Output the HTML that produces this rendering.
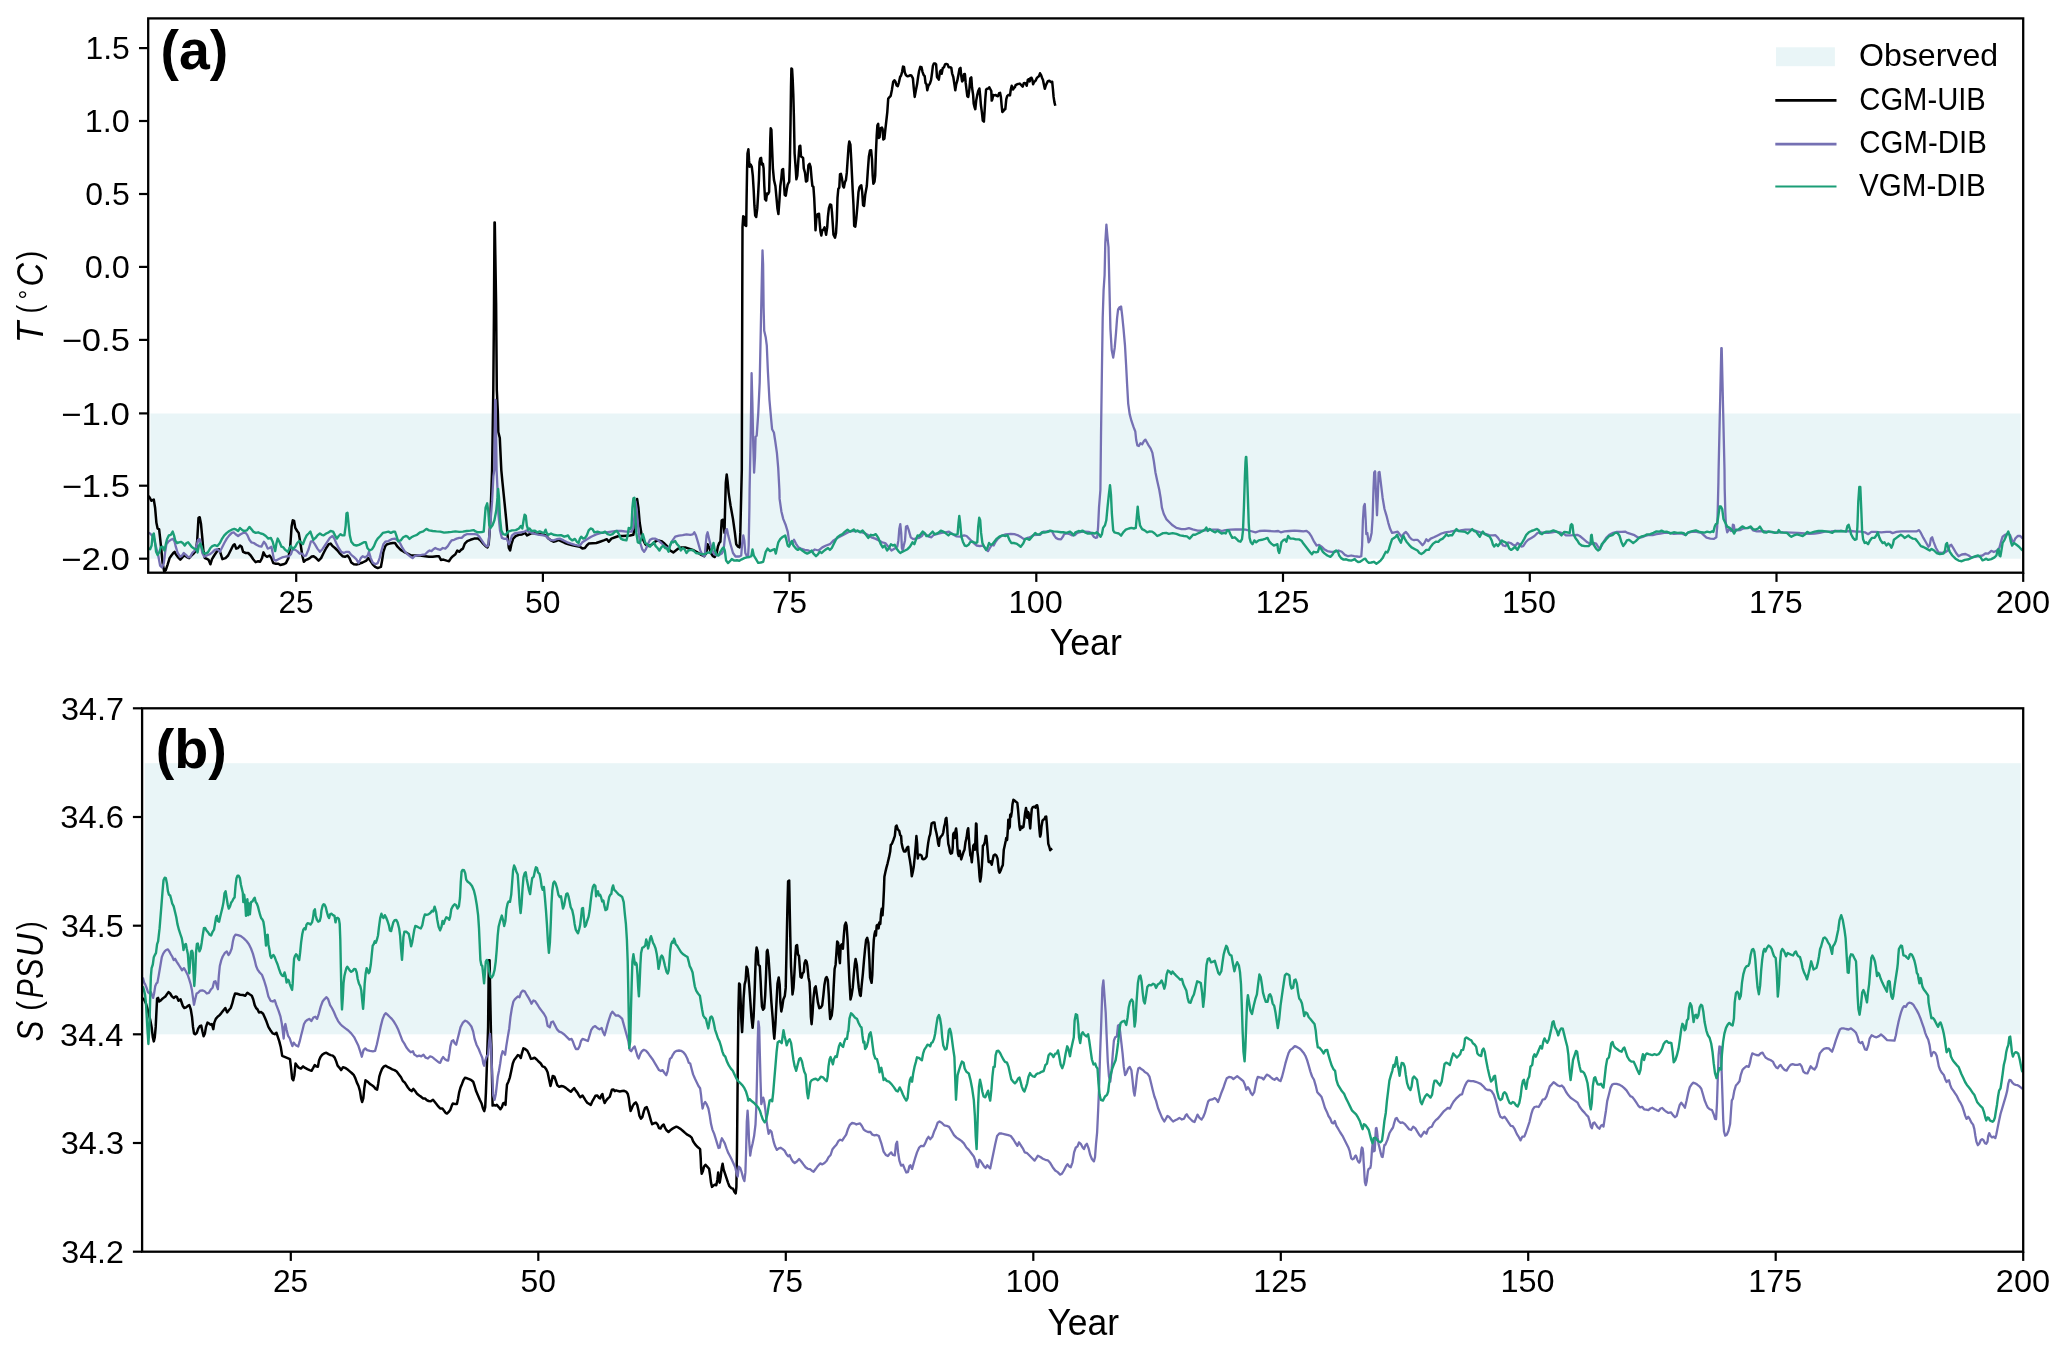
<!DOCTYPE html><html><head><meta charset="utf-8"><title>Figure</title><style>html,body{margin:0;padding:0;background:#fff}svg{display:block}text{font-family:"Liberation Sans",sans-serif;fill:#000}</style></head><body>
<svg width="2067" height="1353" viewBox="0 0 2067 1353" style="will-change:transform">
<rect width="2067" height="1353" fill="#fff"/>
<clipPath id="ca"><rect x="148.2" y="18.4" width="1875.0" height="554.3000000000001"/></clipPath>
<rect x="150.4" y="413.5" width="1870.4" height="145.2" fill="#e9f5f7"/>
<g clip-path="url(#ca)" fill="none" stroke-linejoin="round" stroke-linecap="butt">
<path d="M148.6 495.8 L150.1 498.3 L151.3 500.8 L152.6 500.2 L153.8 499.6 L155.1 507.7 L156.4 522.8 L157.6 528.5 L159.1 529.1 L160.1 537.9 L161.4 550.5 L162.6 563.1 L164.2 571.6 L165.8 570.0 L167.7 564.3 L169.6 558.1 L171.4 555.5 L173.3 553.0 L174.6 551.8 L175.8 554.3 L177.7 556.8 L180.3 559.6 L182.8 556.8 L184.7 555.5 L186.5 556.8 L189.1 558.1 L191.6 555.5 L194.1 553.0 L196.0 550.5 L197.2 540.4 L198.5 517.8 L199.7 517.2 L201.0 524.1 L202.3 537.9 L203.5 551.8 L204.8 558.1 L206.7 558.7 L208.6 559.9 L210.4 564.3 L211.9 559.3 L214.2 555.5 L216.7 551.8 L219.0 549.2 L220.5 553.0 L222.4 559.1 L225.5 558.1 L228.1 555.5 L230.6 550.5 L233.1 545.5 L234.6 544.2 L236.2 548.6 L238.1 548.0 L240.0 545.5 L241.6 546.7 L243.1 551.8 L245.7 553.0 L248.2 553.0 L250.7 555.5 L253.2 559.3 L255.7 562.2 L258.2 561.2 L260.1 561.8 L262.0 558.1 L263.5 552.4 L265.2 555.5 L267.0 556.8 L269.6 555.5 L271.4 558.1 L273.3 563.1 L275.8 563.7 L278.4 563.7 L280.3 565.0 L283.4 564.3 L285.9 563.1 L288.4 558.1 L290.3 545.5 L291.6 526.6 L292.8 520.3 L294.1 520.9 L295.3 527.9 L297.2 531.0 L298.7 532.9 L300.4 543.0 L302.3 555.5 L303.8 561.8 L306.0 559.9 L307.9 559.3 L309.8 558.1 L311.7 556.5 L313.6 556.2 L316.1 558.1 L318.6 560.6 L321.1 558.1 L323.6 553.0 L326.2 548.0 L328.7 544.2 L330.6 543.6 L332.5 546.1 L335.0 548.0 L337.5 550.5 L340.0 553.6 L342.5 556.2 L345.0 556.8 L347.5 555.5 L349.4 558.1 L351.3 562.5 L353.8 564.3 L356.4 564.6 L359.5 563.7 L362.6 562.5 L366.4 560.6 L368.3 558.1 L370.2 560.6 L372.7 564.3 L375.2 566.9 L377.7 568.1 L380.9 566.9 L382.1 560.6 L383.4 551.8 L385.3 546.1 L387.2 544.2 L389.7 543.6 L392.8 543.0 L395.0 543.0 L397.5 546.7 L400.7 549.9 L403.8 551.8 L407.6 553.6 L411.4 555.5 L415.1 555.5 L420.2 555.5 L425.2 556.2 L429.0 556.8 L432.7 556.8 L436.5 556.2 L439.0 556.2 L440.9 559.9 L443.4 559.6 L446.6 560.6 L449.1 561.2 L451.0 558.1 L452.9 556.2 L455.4 554.3 L457.3 550.5 L459.2 551.8 L461.0 549.9 L462.9 548.6 L464.8 543.6 L467.3 541.1 L470.5 539.8 L474.2 538.6 L478.0 538.6 L480.5 540.4 L483.1 543.6 L485.6 546.1 L487.5 547.4 L488.7 544.2 L490.0 526.6 L491.2 495.2 L492.1 470.0 L492.7 430.0 L493.3 390.0 L493.9 320.0 L494.5 222.6 L494.8 222.6 L496.1 303.0 L496.8 390.0 L497.8 411.0 L498.3 432.0 L499.8 438.0 L501.3 470.0 L502.5 482.6 L504.4 501.4 L506.3 520.3 L507.6 535.4 L508.8 548.0 L510.1 550.5 L511.4 544.2 L513.2 538.6 L515.8 536.0 L518.9 534.8 L522.0 534.4 L525.2 532.9 L527.1 535.4 L529.6 534.2 L532.1 532.9 L535.9 533.5 L539.7 534.2 L543.4 534.8 L545.9 535.4 L548.5 538.6 L551.0 540.4 L553.5 541.7 L556.0 541.1 L558.5 539.8 L561.0 541.1 L564.8 543.0 L568.6 544.2 L572.4 545.2 L576.1 546.1 L579.9 546.7 L582.4 548.6 L584.9 548.0 L586.8 545.5 L588.7 543.6 L592.5 543.2 L596.3 543.0 L600.0 541.7 L603.8 540.4 L606.9 539.2 L608.8 541.7 L611.4 538.6 L615.1 537.3 L618.9 536.0 L622.7 536.0 L626.4 535.7 L630.2 535.4 L633.4 534.8 L634.6 526.6 L635.9 507.7 L637.1 498.9 L638.4 507.7 L639.7 522.8 L641.5 534.2 L643.4 540.4 L645.3 544.2 L647.8 546.1 L650.0 545.5 L652.5 544.2 L655.0 541.7 L658.2 540.4 L661.3 541.1 L664.5 543.6 L667.6 546.7 L670.1 550.5 L673.3 552.4 L675.8 550.5 L678.3 548.6 L681.4 547.4 L685.2 547.4 L689.0 548.6 L692.8 549.9 L696.5 551.8 L700.3 554.3 L704.1 556.2 L706.4 553.0 L707.6 544.2 L709.1 547.4 L711.0 553.0 L712.9 556.2 L714.8 557.0 L716.7 553.0 L717.9 546.7 L719.2 543.0 L720.4 541.7 L721.1 530.4 L721.7 520.3 L723.0 519.7 L723.8 526.6 L724.5 532.9 L725.1 507.7 L725.8 482.6 L726.7 474.4 L727.6 481.3 L728.6 492.6 L730.5 505.2 L733.0 519.1 L734.9 532.9 L736.2 544.2 L738.1 546.7 L739.6 547.4 L740.3 532.9 L741.2 495.2 L741.8 470.0 L742.0 393.0 L742.3 286.0 L742.5 227.4 L743.2 216.3 L744.4 217.0 L745.1 225.2 L746.2 225.9 L746.6 197.8 L747.1 168.3 L747.5 153.5 L748.4 149.3 L749.1 160.9 L749.6 166.8 L750.7 164.6 L751.8 166.8 L752.8 175.6 L753.7 190.4 L754.4 205.2 L755.2 215.6 L756.2 217.0 L757.3 208.2 L758.1 194.9 L758.9 180.1 L759.5 162.3 L760.2 158.6 L761.1 157.9 L761.8 164.6 L762.9 163.8 L763.6 168.3 L764.3 186.0 L765.1 199.3 L766.1 200.5 L767.0 193.4 L768.0 194.1 L769.1 191.9 L769.7 168.3 L770.3 138.7 L770.7 128.3 L771.4 129.8 L772.0 146.1 L772.9 168.3 L774.0 180.1 L775.4 186.0 L776.5 197.8 L777.4 208.2 L778.4 214.1 L779.4 200.8 L780.3 186.0 L781.3 178.6 L782.1 169.7 L783.1 169.0 L783.9 181.6 L784.7 194.9 L785.8 195.6 L786.8 189.0 L787.7 184.5 L789.2 181.6 L789.9 160.9 L790.5 123.9 L791.0 87.0 L791.4 68.5 L792.1 69.2 L792.7 79.6 L793.3 94.3 L793.9 116.5 L794.6 153.5 L795.7 168.3 L796.4 179.3 L797.3 175.6 L798.3 160.9 L799.4 146.1 L800.3 145.8 L801.0 156.4 L802.2 157.2 L803.1 157.9 L803.8 168.3 L805.0 172.7 L806.0 181.6 L807.2 180.8 L808.4 165.3 L809.6 163.8 L810.6 166.8 L811.6 178.6 L812.4 186.0 L813.4 186.7 L814.2 197.8 L814.9 212.6 L815.5 230.3 L816.4 218.5 L817.6 214.1 L819.0 213.8 L819.8 224.4 L820.5 231.8 L821.3 235.5 L822.3 230.3 L823.5 229.6 L824.5 227.4 L825.2 230.3 L826.1 234.8 L827.2 227.4 L827.9 217.0 L828.9 208.2 L830.1 204.5 L831.2 204.9 L832.0 212.6 L832.8 224.4 L833.5 234.8 L835.0 237.7 L836.0 233.3 L836.8 220.0 L837.5 197.8 L838.3 189.0 L839.3 187.5 L840.0 174.2 L840.9 173.9 L842.0 178.6 L843.0 186.0 L843.9 187.5 L844.9 182.3 L845.9 180.1 L846.8 172.7 L847.9 156.4 L848.6 146.1 L849.3 141.4 L850.4 144.6 L851.3 160.9 L852.0 175.6 L852.7 190.4 L853.5 205.2 L854.2 225.9 L855.3 226.6 L856.3 218.5 L857.5 205.2 L858.5 191.9 L859.4 187.5 L860.4 186.0 L861.3 185.3 L862.2 191.9 L863.1 205.2 L864.1 205.9 L865.2 194.9 L866.0 190.4 L866.8 186.0 L867.8 171.2 L868.9 156.4 L870.0 150.5 L871.1 150.2 L872.0 159.4 L872.7 175.6 L873.4 183.8 L874.5 181.6 L875.2 175.6 L875.9 153.5 L876.7 135.7 L877.4 125.4 L878.2 123.9 L878.9 138.0 L879.6 137.2 L880.4 128.3 L881.9 127.6 L882.6 129.1 L883.3 139.4 L884.4 138.7 L885.3 129.8 L886.3 121.0 L887.3 112.1 L888.2 98.8 L889.3 97.3 L890.7 95.8 L891.9 89.9 L893.2 81.8 L894.4 80.3 L895.5 81.8 L896.6 85.5 L897.8 86.2 L898.9 82.5 L900.1 77.0 L901.1 75.5 L902.1 71.8 L903.0 66.6 L904.0 66.9 L904.8 72.5 L906.0 75.2 L907.4 76.2 L908.9 75.9 L910.0 75.2 L911.4 75.5 L912.9 78.4 L913.7 87.3 L914.7 96.9 L915.9 90.3 L917.1 84.3 L918.1 77.0 L919.1 71.0 L920.3 66.9 L921.5 67.3 L922.5 71.8 L923.7 75.2 L924.7 76.2 L925.5 82.9 L926.5 84.3 L927.3 90.3 L928.4 85.8 L929.9 83.6 L931.1 79.9 L932.1 72.5 L932.9 65.9 L933.9 63.4 L935.1 63.4 L936.1 64.4 L937.0 77.0 L938.0 78.4 L938.8 79.6 L940.0 71.8 L941.0 70.3 L941.7 73.7 L942.8 68.1 L944.0 67.3 L945.0 64.4 L946.2 63.9 L947.6 64.4 L948.7 67.3 L949.9 67.3 L951.3 67.8 L952.1 73.3 L953.3 77.0 L954.3 83.6 L955.3 90.3 L956.2 84.3 L957.3 80.7 L958.3 75.5 L959.5 68.8 L960.5 67.8 L961.2 75.5 L962.1 81.4 L963.2 79.9 L963.9 74.3 L964.9 74.0 L965.7 82.9 L966.6 90.3 L967.3 96.2 L968.3 96.9 L969.4 88.8 L970.3 78.4 L971.3 77.3 L972.0 87.3 L973.1 94.7 L973.7 103.6 L974.6 107.3 L975.3 109.2 L976.2 100.6 L977.2 95.4 L978.2 91.0 L979.4 88.5 L980.2 96.2 L980.9 105.0 L981.9 112.4 L982.8 120.6 L983.9 121.6 L984.6 111.0 L985.3 99.1 L986.1 89.5 L987.1 88.8 L988.3 88.5 L989.3 87.3 L990.5 89.5 L991.3 91.0 L991.7 100.6 L992.4 99.1 L993.2 95.0 L994.2 95.4 L995.7 95.0 L996.7 95.9 L997.9 96.2 L999.1 93.2 L1000.1 92.9 L1000.9 96.9 L1001.6 105.0 L1002.3 112.0 L1003.5 111.0 L1004.3 109.5 L1005.3 109.2 L1006.3 99.1 L1007.2 96.2 L1008.3 95.0 L1009.4 94.7 L1010.0 95.4 L1010.8 89.5 L1011.7 85.8 L1012.4 87.0 L1013.0 89.5 L1013.9 88.0 L1014.9 87.3 L1015.6 85.1 L1017.1 84.3 L1018.6 83.9 L1019.8 83.6 L1021.3 85.1 L1022.7 86.6 L1023.8 83.2 L1024.8 82.9 L1025.7 83.6 L1026.7 85.8 L1027.8 79.9 L1029.0 79.2 L1029.7 81.4 L1030.4 78.1 L1031.5 77.7 L1032.4 79.9 L1033.1 84.3 L1034.1 82.1 L1035.6 80.7 L1036.8 78.1 L1037.8 77.0 L1039.0 76.2 L1040.0 73.3 L1041.1 75.2 L1042.0 77.7 L1043.0 79.9 L1043.7 83.6 L1044.8 88.8 L1045.7 85.8 L1046.7 83.6 L1047.9 81.1 L1049.3 80.7 L1050.8 82.1 L1052.2 81.8 L1052.9 88.8 L1053.6 96.9 L1054.4 102.1 L1055.3 105.8" stroke="#000" stroke-width="2.5"/>
<path d="M148.6 532.9 L150.1 533.5 L151.9 535.4 L153.8 537.9 L155.7 545.5 L158.2 555.5 L160.1 565.6 L162.0 567.5 L163.9 563.1 L165.2 551.8 L166.4 544.2 L168.3 541.7 L170.8 539.8 L173.0 538.9 L174.6 541.7 L175.8 546.7 L177.7 553.0 L180.3 556.8 L182.1 555.5 L183.8 553.0 L185.9 554.9 L188.4 557.4 L190.3 556.8 L192.2 553.0 L194.7 550.5 L196.6 545.5 L198.1 539.8 L199.7 539.2 L201.0 545.5 L202.3 553.0 L204.2 556.8 L206.7 555.5 L209.8 554.3 L212.3 552.4 L214.8 549.9 L217.4 549.2 L219.9 551.8 L221.8 548.0 L224.3 543.0 L226.8 538.6 L229.3 535.4 L231.8 532.9 L233.7 532.3 L235.6 534.2 L238.1 536.0 L240.6 534.2 L243.1 532.9 L245.7 532.9 L247.5 535.4 L249.4 539.8 L251.3 542.3 L253.8 543.0 L256.4 544.8 L258.9 546.1 L261.4 546.7 L262.6 544.2 L263.9 541.7 L265.8 544.2 L267.7 548.6 L269.6 548.0 L271.4 546.7 L272.7 553.0 L274.0 559.9 L275.8 560.6 L278.4 559.3 L282.1 557.4 L285.9 556.5 L289.1 556.2 L290.9 554.3 L292.8 549.2 L295.3 549.9 L297.2 551.1 L299.7 553.6 L302.3 553.6 L304.2 556.2 L306.0 555.5 L308.6 549.2 L310.8 541.7 L312.6 541.1 L314.8 544.2 L317.4 548.6 L319.9 551.8 L322.4 549.2 L324.9 545.5 L327.4 541.7 L329.9 537.9 L332.5 536.0 L334.3 538.6 L336.2 543.0 L338.7 548.0 L341.3 551.8 L343.8 553.0 L346.3 551.8 L348.8 551.8 L351.3 554.9 L353.8 556.8 L356.4 559.3 L358.6 563.1 L360.8 558.1 L362.6 556.2 L365.2 557.4 L367.7 555.5 L368.9 551.8 L370.8 558.1 L372.7 562.5 L375.2 564.3 L377.7 563.1 L379.6 558.1 L381.5 550.5 L383.4 544.2 L385.3 541.7 L388.4 541.1 L391.6 539.2 L395.0 538.6 L397.5 540.4 L400.0 543.0 L402.5 548.0 L405.1 551.8 L408.2 554.9 L410.7 556.8 L412.6 558.1 L414.5 556.2 L417.6 555.3 L421.4 554.9 L425.2 554.3 L427.7 551.8 L429.6 550.5 L431.5 551.1 L433.4 549.2 L435.3 548.0 L437.8 549.2 L440.3 549.9 L442.8 548.0 L445.3 548.6 L447.8 546.1 L449.7 543.0 L451.6 540.4 L454.1 539.8 L456.6 538.6 L459.2 537.9 L461.7 537.9 L464.2 535.4 L466.7 534.2 L470.5 534.2 L474.2 534.2 L476.8 534.4 L479.3 536.7 L481.8 540.4 L484.3 544.2 L486.8 546.5 L488.3 545.5 L489.3 535.4 L490.6 520.3 L492.1 501.4 L493.4 476.3 L494.3 470.0 L495.1 400.0 L495.6 400.0 L496.6 470.0 L497.5 488.9 L498.4 514.0 L500.0 530.4 L501.9 537.9 L504.4 538.9 L506.9 538.6 L508.8 544.2 L510.5 540.4 L512.0 535.4 L514.5 533.5 L517.6 532.9 L520.8 532.3 L524.6 531.6 L526.4 530.4 L528.3 531.6 L532.1 532.9 L535.9 534.2 L539.7 534.8 L543.4 535.4 L545.9 536.0 L548.5 538.6 L551.0 540.2 L553.5 540.4 L556.6 539.2 L559.8 538.6 L563.6 540.4 L567.3 542.3 L571.1 543.6 L574.9 544.8 L578.0 545.5 L579.9 545.5 L582.4 542.3 L586.2 539.8 L591.2 536.7 L596.3 534.4 L601.3 532.9 L606.3 532.3 L611.4 531.6 L616.4 531.0 L621.4 531.0 L626.4 531.6 L631.5 531.6 L633.4 527.9 L634.6 514.0 L635.5 501.4 L636.5 507.7 L637.8 522.8 L639.0 535.4 L640.3 543.0 L642.2 549.2 L644.1 551.8 L645.9 549.2 L647.8 544.2 L650.0 539.8 L652.5 538.6 L655.0 538.6 L657.5 539.8 L661.3 543.0 L665.1 546.7 L668.2 548.6 L670.1 545.5 L672.6 540.4 L675.2 536.7 L678.9 535.7 L682.7 535.2 L686.5 534.4 L690.3 534.8 L692.8 534.4 L694.3 532.3 L695.9 535.4 L697.8 541.7 L700.3 550.5 L702.8 555.5 L704.7 556.2 L705.6 545.5 L706.6 535.4 L707.6 532.3 L708.9 537.9 L710.4 544.2 L712.3 550.5 L714.2 554.3 L716.7 555.5 L719.2 554.9 L721.7 553.6 L723.6 550.5 L724.8 537.9 L725.8 530.4 L727.0 529.1 L728.2 535.4 L730.5 544.2 L733.0 553.0 L735.5 556.5 L739.3 556.5 L741.2 555.5 L742.2 543.0 L743.3 535.4 L744.3 540.4 L745.3 553.0 L746.9 556.2 L748.1 555.5 L748.7 545.5 L749.4 507.7 L749.6 490.0 L750.7 435.7 L751.6 373.2 L752.4 403.6 L753.3 446.5 L754.1 472.6 L755.0 457.2 L755.6 436.8 L756.7 435.7 L758.2 414.3 L759.7 382.2 L760.8 328.6 L761.9 275.0 L762.5 250.4 L763.1 264.3 L763.6 307.2 L764.2 330.7 L765.7 337.2 L766.8 345.7 L767.9 371.5 L769.4 399.3 L771.1 418.6 L772.1 429.3 L773.9 432.5 L775.4 442.2 L776.9 452.9 L778.2 467.9 L779.4 490.0 L779.6 498.9 L781.4 511.5 L783.3 519.1 L785.8 525.3 L787.7 531.6 L789.0 540.4 L790.3 544.2 L792.1 543.0 L794.0 539.8 L795.9 543.6 L798.4 547.4 L800.9 548.6 L804.7 549.9 L808.5 550.5 L811.6 551.8 L814.8 549.5 L818.6 550.5 L822.3 547.4 L826.1 545.5 L829.9 544.2 L833.6 540.4 L837.4 537.9 L841.2 536.0 L845.0 533.9 L848.7 531.9 L852.5 531.0 L856.3 531.0 L860.1 531.9 L863.8 532.9 L867.6 534.8 L871.4 537.3 L875.2 538.6 L878.9 540.4 L882.1 542.3 L885.2 543.0 L888.4 546.7 L891.5 550.5 L894.7 548.6 L897.2 546.7 L898.4 540.4 L899.3 529.1 L900.3 524.1 L901.2 532.9 L901.9 548.0 L902.8 550.5 L903.8 545.5 L905.0 540.4 L906.0 526.6 L907.3 526.0 L908.8 530.4 L910.7 537.3 L913.2 539.2 L915.7 538.6 L918.8 537.9 L922.0 536.0 L923.9 532.9 L926.4 534.8 L928.9 536.7 L931.4 537.3 L933.9 534.8 L937.7 533.9 L941.5 532.9 L945.3 532.3 L949.0 531.6 L952.8 534.2 L956.6 536.4 L960.3 536.7 L964.1 535.4 L966.6 536.0 L969.2 538.6 L972.9 542.3 L976.7 545.5 L979.8 546.1 L983.0 545.5 L985.5 548.6 L988.0 551.1 L989.9 548.0 L991.8 544.8 L993.7 545.5 L995.6 541.7 L998.1 538.6 L1001.2 536.0 L1005.6 534.4 L1010.7 533.9 L1014.4 534.2 L1018.2 535.4 L1021.4 537.3 L1023.9 539.2 L1025.8 538.6 L1028.3 537.7 L1030.8 536.7 L1033.3 535.2 L1037.1 534.8 L1040.2 534.8 L1043.4 531.6 L1046.5 531.4 L1049.7 531.0 L1052.2 531.6 L1054.1 535.4 L1055.9 537.9 L1058.5 539.2 L1061.0 539.4 L1062.9 536.7 L1064.1 534.2 L1066.6 533.5 L1069.8 534.2 L1072.3 535.4 L1074.8 535.2 L1077.3 532.9 L1081.1 531.9 L1084.9 531.6 L1088.6 531.9 L1091.2 532.9 L1093.7 536.7 L1095.6 537.9 L1097.2 537.3 L1098.1 526.6 L1099.0 507.7 L1100.4 490.0 L1101.0 435.7 L1101.9 371.5 L1102.7 317.9 L1103.6 290.0 L1104.6 275.0 L1105.3 242.9 L1106.4 224.6 L1107.4 236.4 L1108.5 247.1 L1109.4 285.7 L1110.4 328.6 L1111.7 350.0 L1113.2 357.5 L1114.7 347.9 L1116.0 332.9 L1117.1 317.9 L1118.1 309.3 L1119.6 307.2 L1120.3 309.3 L1121.1 306.5 L1122.2 315.7 L1123.5 328.6 L1125.0 345.7 L1126.1 365.0 L1127.1 384.3 L1128.2 403.6 L1129.7 414.3 L1131.4 420.7 L1133.6 427.2 L1135.3 431.5 L1136.2 440.0 L1137.4 445.4 L1138.9 446.0 L1140.4 443.2 L1142.2 444.3 L1143.9 441.1 L1145.4 439.6 L1146.9 442.2 L1148.6 445.4 L1150.7 448.6 L1152.4 452.9 L1153.9 461.5 L1155.4 472.2 L1157.2 480.8 L1159.3 490.0 L1160.6 497.7 L1161.9 507.7 L1163.8 514.0 L1166.3 519.1 L1169.4 522.2 L1172.6 525.3 L1176.4 527.9 L1181.4 529.1 L1185.2 529.1 L1188.9 528.1 L1192.7 529.4 L1197.7 530.6 L1202.8 530.6 L1207.8 530.1 L1212.8 529.7 L1217.9 529.7 L1221.6 531.0 L1225.4 530.1 L1230.4 529.7 L1235.5 529.5 L1240.5 529.4 L1245.5 529.7 L1250.6 531.0 L1255.6 532.3 L1259.4 531.0 L1264.4 530.6 L1269.4 531.0 L1274.5 531.4 L1278.2 531.0 L1280.8 532.3 L1284.5 531.4 L1289.6 531.0 L1294.6 530.6 L1299.6 531.0 L1303.4 531.4 L1306.5 530.8 L1309.1 532.9 L1311.6 536.7 L1314.1 541.7 L1316.6 545.5 L1319.1 544.8 L1321.6 546.7 L1324.2 549.2 L1327.3 551.1 L1331.1 551.8 L1335.5 551.8 L1338.6 550.5 L1341.8 551.8 L1344.9 554.9 L1348.1 556.2 L1351.2 555.5 L1354.3 556.2 L1356.9 556.5 L1359.4 556.8 L1361.3 556.2 L1362.1 545.5 L1362.9 520.3 L1363.8 506.5 L1364.8 504.0 L1365.7 520.3 L1366.3 534.2 L1367.3 532.9 L1368.6 542.3 L1370.1 539.8 L1371.6 532.9 L1372.6 517.8 L1373.5 488.9 L1374.2 472.5 L1375.1 471.3 L1376.1 495.2 L1377.0 515.3 L1377.9 495.2 L1378.6 472.5 L1379.5 471.9 L1380.8 482.6 L1382.6 497.7 L1384.5 509.0 L1386.4 515.3 L1388.3 522.8 L1390.2 529.1 L1392.1 532.9 L1394.6 532.3 L1397.7 531.6 L1399.6 534.2 L1401.5 536.7 L1404.0 533.5 L1405.9 531.9 L1407.8 534.2 L1409.7 537.3 L1411.6 539.2 L1414.1 540.2 L1415.0 539.8 L1417.5 539.8 L1420.0 542.3 L1422.5 545.2 L1424.4 543.0 L1426.3 539.2 L1428.2 541.1 L1430.7 538.6 L1433.9 537.3 L1437.6 535.4 L1441.4 533.5 L1445.2 532.3 L1450.2 531.6 L1455.3 530.6 L1460.3 530.4 L1465.3 529.7 L1470.3 529.7 L1474.1 530.4 L1477.9 531.6 L1481.7 532.9 L1485.4 533.9 L1489.2 535.2 L1493.0 535.4 L1495.5 535.2 L1498.0 537.9 L1500.5 541.7 L1503.1 545.5 L1505.6 546.1 L1508.1 542.3 L1510.6 543.0 L1513.1 544.8 L1515.6 545.5 L1517.5 543.0 L1519.4 544.2 L1521.3 546.5 L1523.2 546.1 L1525.7 542.3 L1528.2 539.8 L1531.4 537.9 L1534.5 536.0 L1537.6 532.9 L1540.8 532.3 L1544.6 532.9 L1548.3 532.9 L1552.1 532.3 L1555.9 531.6 L1559.7 532.3 L1563.4 533.5 L1565.9 535.4 L1569.7 535.4 L1573.5 535.2 L1577.3 534.8 L1579.8 536.0 L1583.6 539.2 L1587.3 542.3 L1589.8 543.6 L1592.4 544.2 L1594.2 543.0 L1596.1 543.6 L1598.0 546.7 L1599.9 548.6 L1601.8 545.5 L1603.7 541.7 L1606.2 537.9 L1609.3 534.8 L1613.1 532.9 L1616.3 532.0 L1621.3 531.9 L1625.1 531.6 L1627.6 532.9 L1631.4 534.2 L1634.5 535.2 L1637.6 537.3 L1641.4 537.3 L1645.2 536.0 L1649.0 534.8 L1652.7 535.2 L1656.5 534.2 L1660.3 533.5 L1664.1 532.9 L1667.8 532.9 L1670.0 532.9 L1673.8 533.9 L1677.5 533.5 L1681.3 533.5 L1685.1 534.8 L1687.6 532.9 L1691.4 531.9 L1696.4 531.9 L1701.4 532.9 L1704.0 535.4 L1706.5 537.7 L1710.3 538.6 L1714.0 538.9 L1716.3 537.3 L1717.2 526.6 L1717.8 507.7 L1718.4 482.6 L1718.6 470.0 L1721.3 348.2 L1721.7 348.2 L1724.5 470.0 L1724.7 488.9 L1725.3 511.5 L1726.0 526.6 L1727.2 532.3 L1729.1 529.1 L1731.0 531.0 L1732.3 530.4 L1732.9 524.7 L1733.9 525.3 L1734.8 531.6 L1736.7 530.4 L1740.4 530.1 L1743.0 528.5 L1746.7 528.1 L1750.5 527.2 L1753.0 530.4 L1756.8 531.4 L1761.8 531.0 L1766.9 531.6 L1773.1 532.3 L1779.4 532.3 L1785.7 532.3 L1792.0 532.6 L1798.3 532.9 L1804.6 533.5 L1809.6 533.9 L1814.7 533.5 L1819.7 532.9 L1824.7 531.6 L1831.0 531.4 L1836.0 531.0 L1841.1 531.0 L1846.1 531.4 L1851.1 531.0 L1856.2 531.6 L1861.2 531.6 L1865.0 532.3 L1868.1 534.2 L1871.3 531.9 L1876.3 531.9 L1881.3 532.3 L1886.4 531.9 L1890.1 531.9 L1892.6 533.1 L1896.4 531.9 L1901.4 531.4 L1906.5 531.4 L1911.5 531.4 L1916.5 531.4 L1919.0 530.1 L1920.9 532.9 L1923.4 537.9 L1925.9 542.3 L1928.4 546.7 L1929.7 545.5 L1930.9 538.6 L1932.2 537.3 L1933.5 541.7 L1936.0 548.0 L1938.5 552.4 L1941.6 553.0 L1944.8 552.4 L1947.9 550.5 L1949.8 545.5 L1951.3 544.8 L1953.6 548.6 L1956.1 553.0 L1958.6 556.2 L1961.8 554.5 L1965.5 554.0 L1968.7 555.5 L1971.2 557.4 L1975.0 556.8 L1978.7 556.2 L1982.5 555.5 L1985.7 553.3 L1988.2 553.6 L1991.3 550.8 L1993.8 552.0 L1997.0 550.5 L1999.5 547.4 L2001.4 540.4 L2002.6 536.7 L2005.2 534.8 L2008.3 533.5 L2010.2 535.4 L2012.1 540.4 L2013.7 542.3 L2015.2 538.6 L2017.7 536.0 L2020.3 536.0 L2022.8 538.6" stroke="#7570b3" stroke-width="2.3"/>
<path d="M148.6 548.6 L150.1 549.2 L151.6 545.5 L152.6 535.4 L153.8 533.5 L154.8 540.4 L156.1 551.8 L157.6 554.9 L159.5 551.8 L160.8 547.4 L162.6 546.7 L164.5 550.5 L165.8 544.2 L167.0 539.2 L168.9 535.4 L170.8 534.8 L172.7 531.6 L174.0 535.4 L175.2 540.4 L177.1 543.0 L179.0 542.3 L180.9 541.9 L182.8 543.0 L184.7 545.5 L186.5 543.0 L188.1 542.3 L189.7 544.2 L191.6 546.7 L194.1 548.6 L196.0 549.2 L197.6 552.4 L198.9 545.5 L200.4 543.6 L201.9 548.0 L203.5 553.0 L205.4 553.6 L207.9 552.4 L210.4 548.0 L212.3 546.1 L214.8 545.2 L217.4 546.1 L219.9 543.0 L221.8 539.2 L224.3 535.4 L226.8 532.9 L229.3 531.0 L231.8 529.7 L234.3 528.9 L236.2 529.7 L238.1 531.0 L240.0 528.1 L241.9 529.7 L243.8 531.0 L246.9 530.4 L249.4 526.9 L251.3 529.1 L253.2 531.6 L255.7 532.9 L258.2 532.3 L260.8 533.5 L263.3 534.2 L265.8 536.0 L268.3 538.6 L270.8 537.9 L272.7 541.7 L274.0 546.7 L275.2 551.1 L276.5 543.0 L277.7 538.6 L279.6 542.3 L281.5 546.7 L283.4 547.4 L285.3 549.9 L287.8 551.8 L289.7 548.0 L290.9 546.1 L292.8 549.2 L295.3 546.7 L297.2 543.0 L299.1 541.1 L301.0 542.3 L302.9 544.2 L304.8 539.2 L306.7 535.4 L308.6 533.5 L310.4 531.6 L311.7 535.4 L313.3 539.8 L315.5 537.9 L317.4 535.4 L319.9 533.5 L321.8 534.8 L323.6 535.4 L326.2 533.5 L328.7 532.3 L330.6 531.0 L333.1 531.6 L335.0 535.4 L336.9 538.6 L338.7 536.0 L340.6 534.2 L342.5 535.4 L344.4 535.4 L345.7 525.3 L346.5 513.4 L347.5 512.8 L348.6 524.1 L349.8 535.4 L351.3 541.7 L353.8 544.8 L356.4 545.5 L358.9 544.8 L361.4 543.6 L363.9 542.3 L365.8 542.3 L367.4 548.0 L369.6 550.5 L372.1 549.2 L374.0 546.1 L375.8 541.7 L377.7 538.6 L380.3 536.0 L382.8 532.9 L385.3 532.3 L388.4 531.6 L390.9 532.9 L393.5 531.6 L395.0 531.6 L396.3 535.4 L398.1 541.1 L400.7 540.4 L403.2 537.3 L405.7 536.0 L407.6 536.7 L409.5 538.9 L411.4 537.3 L413.9 536.0 L417.0 534.8 L420.2 532.3 L423.3 531.4 L426.4 528.9 L429.0 530.4 L432.7 531.0 L436.5 531.4 L440.3 531.6 L444.1 532.6 L447.8 532.3 L451.6 531.9 L455.4 531.4 L459.2 531.9 L462.9 531.6 L466.7 531.0 L470.5 530.6 L473.6 530.1 L475.5 531.4 L478.0 532.3 L481.8 532.0 L483.7 531.6 L484.6 520.3 L485.6 507.7 L487.2 503.3 L488.3 511.5 L489.3 525.3 L490.6 527.9 L492.5 525.3 L494.4 520.3 L496.3 510.3 L497.5 497.7 L498.1 488.9 L499.0 497.7 L500.0 517.8 L501.3 530.4 L503.2 534.2 L505.7 534.8 L508.2 531.6 L512.0 530.4 L515.8 530.1 L518.9 528.5 L520.8 526.0 L522.3 528.5 L523.6 520.3 L524.6 514.7 L525.8 515.9 L526.8 525.3 L528.1 529.7 L529.6 528.5 L531.5 531.0 L534.6 530.6 L537.1 532.3 L539.7 531.4 L542.2 532.3 L544.1 532.9 L545.6 529.7 L546.6 532.9 L548.5 534.8 L551.0 533.5 L553.5 534.8 L557.3 535.4 L561.0 535.2 L564.2 536.7 L566.7 536.0 L568.0 535.4 L569.8 538.6 L572.4 540.4 L574.9 538.9 L576.8 541.7 L578.6 543.0 L579.9 538.6 L581.2 536.7 L583.1 538.6 L584.9 537.9 L586.8 535.4 L588.7 530.4 L590.6 528.5 L592.5 529.1 L594.4 532.3 L597.5 531.6 L600.0 532.3 L602.5 532.9 L605.1 531.6 L607.6 534.2 L610.1 534.8 L612.6 534.2 L615.1 531.6 L617.0 531.0 L618.9 534.2 L620.8 538.6 L623.3 539.8 L626.4 540.4 L627.7 535.4 L628.7 527.9 L630.2 529.1 L631.5 526.6 L632.4 507.7 L633.4 498.3 L634.4 497.7 L635.3 514.0 L636.3 532.9 L637.8 542.3 L639.7 543.0 L641.3 538.6 L642.8 534.2 L644.1 538.6 L645.3 543.0 L647.2 544.2 L650.0 546.7 L651.9 544.2 L653.8 542.3 L655.7 546.1 L657.5 548.0 L659.4 550.5 L661.3 547.4 L663.2 545.5 L665.1 548.0 L667.0 548.6 L668.6 551.8 L670.1 545.5 L671.6 541.7 L673.3 542.3 L675.2 541.1 L677.0 544.2 L678.9 546.1 L680.8 550.5 L682.7 548.0 L684.6 549.2 L686.5 553.0 L688.4 550.5 L690.9 549.9 L693.4 550.5 L695.9 553.0 L699.1 553.6 L702.8 554.3 L706.0 553.6 L707.9 552.4 L710.4 553.0 L712.3 548.0 L713.5 543.0 L714.8 550.5 L716.7 554.9 L718.6 555.5 L720.4 551.8 L722.3 548.6 L723.6 547.4 L724.8 550.5 L726.1 560.6 L728.0 563.1 L729.9 561.2 L731.8 559.1 L734.3 560.6 L736.8 560.3 L739.3 560.8 L741.8 559.3 L744.3 558.1 L746.9 557.4 L749.4 557.0 L751.3 556.2 L752.5 549.5 L753.8 555.5 L755.7 558.7 L758.2 562.8 L760.7 562.5 L763.2 561.8 L764.5 556.8 L765.7 551.8 L767.6 548.6 L770.1 551.1 L772.6 549.9 L774.5 549.2 L775.8 553.6 L777.0 548.0 L778.3 542.3 L780.2 539.2 L782.1 537.3 L785.2 535.4 L786.5 540.4 L787.7 545.5 L789.0 546.7 L790.6 543.0 L791.9 541.1 L793.4 545.5 L795.9 548.6 L797.8 549.9 L799.7 548.6 L802.2 550.5 L804.7 552.4 L807.2 553.6 L809.7 552.4 L811.6 550.5 L813.5 553.6 L816.0 556.2 L817.9 554.3 L819.8 551.8 L821.7 553.0 L823.6 551.1 L826.1 549.2 L828.0 548.0 L829.9 549.9 L831.8 548.0 L833.6 544.2 L835.5 540.4 L837.4 537.3 L839.9 535.4 L842.5 534.2 L845.0 531.6 L847.5 529.7 L850.0 531.6 L852.5 530.4 L853.8 529.4 L855.7 531.6 L857.5 530.4 L860.1 532.3 L862.6 530.6 L865.1 533.5 L868.2 537.9 L870.8 534.8 L873.3 535.4 L875.8 534.2 L878.3 537.9 L880.8 544.2 L882.7 547.4 L884.6 545.5 L887.1 550.5 L889.0 548.0 L890.9 544.2 L892.8 545.5 L894.7 544.8 L896.5 548.6 L898.4 551.1 L900.3 553.0 L902.2 551.8 L905.0 550.5 L907.5 549.2 L910.0 546.7 L912.5 542.3 L914.4 544.2 L916.3 538.6 L917.6 535.4 L919.5 536.0 L920.7 534.2 L922.6 531.6 L924.5 532.9 L926.4 536.0 L928.3 536.0 L930.8 533.5 L932.7 531.6 L934.6 534.2 L937.1 533.5 L939.0 532.3 L940.8 530.6 L942.7 531.4 L944.6 532.3 L946.5 533.9 L948.4 535.4 L950.3 533.5 L952.8 534.2 L955.3 534.8 L957.6 534.2 L958.5 522.8 L959.3 515.9 L960.3 524.1 L961.4 536.7 L962.9 541.7 L964.7 545.5 L966.6 546.1 L968.5 544.8 L970.4 541.9 L972.9 541.7 L975.4 543.0 L977.3 542.3 L978.2 526.6 L979.2 517.8 L980.2 520.3 L981.1 532.9 L982.4 543.0 L984.2 546.7 L986.1 549.9 L987.4 548.0 L989.0 543.0 L990.5 544.8 L992.4 544.2 L994.3 541.7 L996.8 538.6 L999.3 536.7 L1002.5 535.4 L1005.6 536.0 L1007.5 535.2 L1009.4 539.8 L1011.3 543.0 L1013.8 543.0 L1016.3 543.6 L1018.8 545.2 L1020.7 546.7 L1023.2 543.6 L1025.1 539.2 L1027.0 538.6 L1029.5 539.8 L1032.0 536.7 L1035.2 532.9 L1037.1 534.4 L1039.6 534.2 L1042.1 532.3 L1044.6 532.6 L1047.8 531.9 L1050.3 530.6 L1053.4 531.4 L1057.2 531.6 L1061.0 532.3 L1064.1 532.3 L1066.6 532.9 L1069.8 531.6 L1071.7 532.9 L1073.6 535.2 L1075.4 532.3 L1078.6 531.0 L1080.5 531.6 L1082.4 530.6 L1084.9 532.3 L1087.4 533.5 L1089.9 533.5 L1092.4 532.9 L1094.9 533.5 L1096.8 532.3 L1098.7 534.2 L1100.6 536.7 L1101.9 534.2 L1103.1 527.9 L1105.0 525.3 L1106.3 520.3 L1107.5 507.7 L1108.8 495.2 L1110.0 485.1 L1111.0 495.2 L1111.9 514.0 L1113.2 530.4 L1114.4 532.3 L1116.3 532.9 L1118.8 533.5 L1121.1 535.7 L1123.2 532.3 L1125.8 529.7 L1128.9 528.5 L1131.4 527.9 L1133.9 528.5 L1135.8 527.9 L1136.7 517.8 L1137.7 506.7 L1138.7 516.5 L1140.0 525.3 L1142.1 529.1 L1144.6 530.4 L1147.1 532.3 L1149.7 531.4 L1152.2 531.6 L1154.7 533.5 L1157.2 536.0 L1160.0 534.8 L1163.1 533.1 L1166.3 532.9 L1168.8 533.9 L1172.6 533.1 L1176.4 533.9 L1180.1 535.4 L1183.9 536.0 L1187.0 536.4 L1189.6 538.6 L1191.4 536.7 L1193.0 534.8 L1195.2 534.8 L1197.7 533.5 L1200.3 532.3 L1203.4 530.6 L1205.3 529.1 L1206.3 527.6 L1207.8 531.0 L1209.7 528.9 L1211.6 530.4 L1213.5 531.6 L1215.3 532.3 L1217.6 530.6 L1219.7 532.3 L1221.6 533.5 L1224.2 532.9 L1225.7 533.5 L1227.3 530.1 L1228.9 530.6 L1230.4 534.2 L1232.3 537.9 L1234.8 537.3 L1236.7 539.2 L1238.6 541.1 L1240.5 541.7 L1242.0 539.2 L1243.0 530.4 L1243.9 507.7 L1244.9 476.3 L1245.5 462.0 L1245.9 457.0 L1246.3 457.0 L1246.9 468.0 L1247.8 495.2 L1248.7 522.8 L1249.6 537.9 L1250.8 542.3 L1252.5 544.2 L1254.3 540.4 L1256.2 542.3 L1258.7 540.4 L1261.9 539.8 L1265.0 538.9 L1267.5 537.9 L1269.4 541.7 L1271.3 543.6 L1273.8 545.5 L1275.7 544.8 L1277.4 544.2 L1278.2 550.5 L1279.2 553.0 L1280.4 548.0 L1281.4 542.3 L1283.3 540.2 L1285.2 539.4 L1286.4 541.7 L1288.1 536.0 L1290.2 538.6 L1293.3 538.6 L1295.8 539.4 L1299.0 539.4 L1301.5 540.7 L1303.4 543.6 L1305.9 546.7 L1308.4 549.9 L1310.3 552.4 L1311.9 554.3 L1313.7 551.8 L1316.0 552.4 L1317.9 551.8 L1319.5 546.7 L1321.0 548.6 L1322.9 551.8 L1324.8 553.6 L1327.3 555.5 L1330.4 556.8 L1332.3 554.9 L1334.2 551.8 L1336.1 550.5 L1338.0 551.8 L1339.2 555.5 L1341.1 558.1 L1343.6 559.6 L1346.2 559.3 L1348.7 560.3 L1351.2 560.6 L1353.1 559.9 L1354.7 559.1 L1356.2 560.8 L1358.1 562.1 L1360.0 561.8 L1361.9 560.6 L1363.8 559.1 L1365.3 558.7 L1366.9 561.2 L1368.8 562.8 L1371.3 562.5 L1373.8 561.8 L1376.4 563.7 L1378.2 562.5 L1380.8 560.3 L1382.6 558.1 L1384.5 554.3 L1385.8 551.8 L1387.4 552.4 L1388.9 549.2 L1390.4 544.2 L1392.1 539.2 L1394.0 537.9 L1395.8 536.7 L1397.1 534.8 L1398.4 537.9 L1399.6 540.4 L1400.9 542.7 L1402.1 538.6 L1403.4 535.7 L1404.7 538.6 L1406.5 541.7 L1409.1 544.8 L1411.6 547.4 L1415.0 549.2 L1417.5 550.5 L1419.4 553.0 L1421.3 554.0 L1423.8 552.4 L1426.3 549.9 L1428.8 549.9 L1430.7 546.7 L1433.2 543.6 L1435.8 541.7 L1438.3 541.9 L1440.2 539.8 L1442.7 538.6 L1445.2 536.0 L1446.4 534.2 L1448.3 536.0 L1450.2 535.2 L1452.1 535.4 L1454.0 532.3 L1456.5 529.1 L1458.4 531.0 L1460.9 531.4 L1463.4 531.6 L1465.3 531.9 L1467.8 533.5 L1470.3 531.0 L1472.2 529.1 L1474.1 531.0 L1476.0 531.6 L1477.9 534.2 L1479.8 536.7 L1481.7 532.9 L1482.9 531.6 L1484.8 534.2 L1487.3 535.4 L1489.8 536.7 L1491.7 540.4 L1493.0 544.8 L1494.2 546.5 L1496.1 544.2 L1498.0 546.1 L1499.9 543.6 L1501.8 540.4 L1503.7 541.7 L1505.6 542.3 L1507.5 544.2 L1509.3 548.6 L1511.2 549.9 L1513.1 548.6 L1515.0 546.7 L1516.3 548.6 L1517.5 549.9 L1519.4 546.1 L1521.9 543.0 L1524.4 538.6 L1526.3 534.8 L1528.8 532.3 L1531.4 531.0 L1533.9 530.1 L1537.0 528.9 L1538.9 530.4 L1540.2 533.5 L1542.0 534.2 L1543.9 532.6 L1546.4 531.6 L1550.2 531.6 L1553.4 530.4 L1555.9 531.4 L1559.0 532.9 L1561.5 535.4 L1564.1 531.9 L1566.6 532.3 L1569.7 532.9 L1570.7 525.3 L1571.6 524.1 L1572.5 525.3 L1573.5 534.2 L1575.4 537.9 L1577.3 540.4 L1579.2 543.6 L1581.7 545.5 L1584.8 546.1 L1588.6 546.1 L1590.5 544.2 L1591.1 535.4 L1591.7 534.8 L1592.6 541.7 L1594.2 545.5 L1596.1 548.6 L1598.0 550.5 L1599.9 549.2 L1601.8 544.2 L1604.3 541.7 L1606.8 538.6 L1609.3 536.0 L1612.5 535.2 L1615.0 532.9 L1617.5 532.9 L1619.4 535.4 L1621.3 541.7 L1623.2 546.1 L1625.1 543.6 L1626.9 540.4 L1628.8 539.8 L1630.7 541.1 L1633.2 543.0 L1635.8 541.1 L1638.3 538.6 L1641.4 536.4 L1643.9 536.0 L1647.1 534.4 L1650.2 534.2 L1653.4 532.9 L1656.5 531.4 L1659.7 531.6 L1661.5 530.6 L1664.1 531.9 L1666.6 531.6 L1669.1 532.6 L1670.0 533.5 L1673.8 532.3 L1677.5 532.9 L1681.3 532.6 L1683.8 533.1 L1685.7 535.2 L1688.2 532.3 L1691.4 531.4 L1695.8 530.4 L1698.9 531.6 L1701.4 532.3 L1704.6 532.6 L1707.1 531.6 L1710.3 532.3 L1712.1 531.4 L1713.4 531.9 L1714.7 526.6 L1715.9 524.1 L1717.2 523.5 L1718.4 515.3 L1719.7 506.5 L1720.9 506.5 L1722.2 509.0 L1723.5 519.1 L1725.3 522.8 L1727.2 526.6 L1729.7 527.9 L1732.3 530.4 L1734.2 533.5 L1736.0 529.7 L1738.6 529.4 L1740.4 527.9 L1742.3 526.4 L1744.8 527.9 L1748.0 528.1 L1750.5 526.4 L1753.0 529.1 L1755.5 529.7 L1758.1 528.5 L1759.9 526.6 L1761.8 529.7 L1763.7 532.3 L1766.2 532.6 L1768.7 531.4 L1771.9 531.9 L1775.0 532.9 L1777.5 532.6 L1778.8 530.1 L1780.4 532.3 L1783.2 532.6 L1787.0 532.9 L1789.5 535.4 L1791.4 536.7 L1793.9 535.4 L1797.0 534.4 L1799.6 535.2 L1802.7 536.0 L1805.2 534.2 L1807.1 531.9 L1809.0 532.9 L1811.5 532.6 L1814.7 531.6 L1818.4 531.0 L1822.2 531.0 L1826.0 531.4 L1829.1 531.9 L1832.3 532.9 L1834.8 531.0 L1837.9 531.4 L1841.1 531.0 L1844.2 531.4 L1846.1 531.6 L1847.4 526.0 L1848.6 524.7 L1849.9 529.1 L1851.1 534.2 L1853.0 537.9 L1854.9 539.8 L1856.5 539.2 L1857.4 526.6 L1858.3 501.4 L1859.3 487.0 L1860.3 487.0 L1861.2 507.7 L1862.1 530.4 L1863.1 539.2 L1864.7 543.0 L1866.2 542.3 L1868.1 544.2 L1870.0 540.4 L1871.9 537.9 L1874.4 537.9 L1876.3 535.4 L1877.8 532.3 L1879.1 536.7 L1880.7 540.4 L1882.6 543.0 L1884.5 542.3 L1886.4 545.5 L1888.2 543.6 L1889.9 544.8 L1891.4 547.7 L1892.9 544.2 L1893.9 539.8 L1896.4 537.9 L1898.9 536.0 L1900.8 534.8 L1902.7 536.0 L1904.6 537.9 L1906.5 536.7 L1908.4 535.4 L1910.3 537.3 L1912.8 538.6 L1915.3 538.9 L1917.2 541.1 L1920.9 546.1 L1923.4 547.0 L1926.5 548.6 L1929.7 550.5 L1931.6 549.0 L1934.1 550.5 L1936.6 553.0 L1939.7 554.0 L1943.5 553.6 L1945.0 550.5 L1946.0 544.2 L1947.0 543.0 L1948.3 548.0 L1949.8 551.8 L1952.3 555.5 L1955.5 558.7 L1958.6 560.6 L1961.8 561.2 L1964.9 559.9 L1968.7 559.3 L1972.5 557.4 L1975.6 556.2 L1978.1 555.5 L1980.6 557.4 L1982.5 560.3 L1984.4 559.6 L1986.3 558.7 L1988.2 559.9 L1991.3 559.1 L1994.5 557.4 L1996.4 555.5 L1997.6 550.5 L1998.6 549.2 L1999.5 555.5 L2000.4 556.2 L2001.4 550.5 L2002.6 543.0 L2004.5 539.8 L2006.4 535.4 L2008.3 531.6 L2009.6 535.4 L2010.8 541.7 L2012.1 545.5 L2014.0 543.0 L2016.5 544.8 L2019.0 546.7 L2021.5 549.5 L2022.8 550.5" stroke="#1b9e77" stroke-width="2.4"/>
</g>
<rect x="148.2" y="18.4" width="1875.0" height="554.3" fill="none" stroke="#000" stroke-width="2.3"/>
<line x1="139.0" x2="148.2" y1="48.1" y2="48.1" stroke="#000" stroke-width="2.2"/>
<text transform="translate(85.47,59.40) scale(1.0963,1.0677)" font-size="29.1">1.5</text>
<line x1="139.0" x2="148.2" y1="121.0" y2="121.0" stroke="#000" stroke-width="2.2"/>
<text transform="translate(84.81,132.30) scale(1.1132,1.0677)" font-size="29.1">1.0</text>
<line x1="139.0" x2="148.2" y1="194.0" y2="194.0" stroke="#000" stroke-width="2.2"/>
<text transform="translate(85.31,205.30) scale(1.1003,1.0677)" font-size="29.1">0.5</text>
<line x1="139.0" x2="148.2" y1="266.9" y2="266.9" stroke="#000" stroke-width="2.2"/>
<text transform="translate(84.67,278.20) scale(1.1168,1.0677)" font-size="29.1">0.0</text>
<line x1="139.0" x2="148.2" y1="339.9" y2="339.9" stroke="#000" stroke-width="2.2"/>
<text transform="translate(61.65,351.20) scale(1.1884,1.0677)" font-size="29.1">−0.5</text>
<line x1="139.0" x2="148.2" y1="413.4" y2="413.4" stroke="#000" stroke-width="2.2"/>
<text transform="translate(61.01,424.70) scale(1.1998,1.0677)" font-size="29.1">−1.0</text>
<line x1="139.0" x2="148.2" y1="485.7" y2="485.7" stroke="#000" stroke-width="2.2"/>
<text transform="translate(61.65,497.00) scale(1.1884,1.0677)" font-size="29.1">−1.5</text>
<line x1="139.0" x2="148.2" y1="558.7" y2="558.7" stroke="#000" stroke-width="2.2"/>
<text transform="translate(61.01,570.00) scale(1.1998,1.0677)" font-size="29.1">−2.0</text>
<line x1="296.2" x2="296.2" y1="572.7" y2="581.9000000000001" stroke="#000" stroke-width="2.2"/>
<text transform="translate(278.38,613.10) scale(1.0882,1.0677)" font-size="29.1">25</text>
<line x1="542.9" x2="542.9" y1="572.7" y2="581.9000000000001" stroke="#000" stroke-width="2.2"/>
<text transform="translate(525.10,613.10) scale(1.0958,1.0677)" font-size="29.1">50</text>
<line x1="789.6" x2="789.6" y1="572.7" y2="581.9000000000001" stroke="#000" stroke-width="2.2"/>
<text transform="translate(771.94,613.10) scale(1.0798,1.0677)" font-size="29.1">75</text>
<line x1="1036.3" x2="1036.3" y1="572.7" y2="581.9000000000001" stroke="#000" stroke-width="2.2"/>
<text transform="translate(1008.60,613.10) scale(1.1146,1.0677)" font-size="29.1">100</text>
<line x1="1283.0" x2="1283.0" y1="572.7" y2="581.9000000000001" stroke="#000" stroke-width="2.2"/>
<text transform="translate(1255.64,613.10) scale(1.1069,1.0677)" font-size="29.1">125</text>
<line x1="1529.8" x2="1529.8" y1="572.7" y2="581.9000000000001" stroke="#000" stroke-width="2.2"/>
<text transform="translate(1502.02,613.10) scale(1.1146,1.0677)" font-size="29.1">150</text>
<line x1="1776.5" x2="1776.5" y1="572.7" y2="581.9000000000001" stroke="#000" stroke-width="2.2"/>
<text transform="translate(1749.06,613.10) scale(1.1069,1.0677)" font-size="29.1">175</text>
<line x1="2023.2" x2="2023.2" y1="572.7" y2="581.9000000000001" stroke="#000" stroke-width="2.2"/>
<text transform="translate(1995.74,613.10) scale(1.1196,1.0677)" font-size="29.1">200</text>
<text transform="translate(1049.73,655.00) scale(1.0224,1.0667)" font-size="34.9">Year</text>
<text transform="translate(160.53,68.90) scale(1.0073,1.0000)" font-size="55" font-weight="bold" fill="#1f1f1f">(a)</text>
<rect x="1776" y="47.3" width="58.9" height="18.9" fill="#e9f5f7"/>
<line x1="1775.3" x2="1836.5" y1="100.3" y2="100.3" stroke="#000" stroke-width="2.7"/>
<line x1="1775.3" x2="1836.5" y1="144.1" y2="144.1" stroke="#7570b3" stroke-width="2.6"/>
<line x1="1775.3" x2="1836.5" y1="186.5" y2="186.5" stroke="#1b9e77" stroke-width="2.0"/>
<text transform="translate(1858.95,66.30) scale(1.1031,1.0533)" font-size="29.1">Observed</text>
<text transform="translate(1859.29,109.50) scale(1.0041,1.0677)" font-size="29.1">CGM-UIB</text>
<text transform="translate(1859.28,152.60) scale(1.0114,1.0677)" font-size="29.1">CGM-DIB</text>
<text transform="translate(1859.05,195.60) scale(1.0183,1.0677)" font-size="29.1">VGM-DIB</text>
<clipPath id="cb"><rect x="142.1" y="708.3" width="1881.1000000000001" height="543.4000000000001"/></clipPath>
<rect x="144.7" y="763.2" width="1876.1" height="271.1" fill="#e9f5f7"/>
<g clip-path="url(#cb)" fill="none" stroke-linejoin="round" stroke-linecap="butt">
<path d="M142.9 997.9 L144.4 1000.1 L145.8 1003.0 L147.3 1008.0 L148.7 1013.8 L150.2 1019.7 L151.6 1026.9 L152.8 1037.1 L153.8 1041.4 L154.8 1037.1 L155.7 1026.9 L156.4 1012.4 L157.1 998.6 L158.1 997.9 L159.2 1001.5 L160.3 1000.8 L161.8 999.3 L163.5 997.9 L165.4 996.4 L166.9 994.3 L168.6 992.1 L170.2 993.5 L171.9 996.4 L173.7 997.9 L175.6 996.4 L177.0 997.2 L178.5 1000.8 L180.6 999.3 L181.8 1003.0 L182.8 1005.9 L184.3 1008.0 L186.2 1007.3 L187.9 1005.9 L189.3 1005.1 L190.8 1009.5 L192.0 1016.7 L193.0 1026.9 L194.0 1033.4 L195.2 1034.2 L196.9 1032.7 L198.3 1028.4 L199.8 1026.2 L201.2 1025.5 L202.4 1031.3 L203.6 1036.3 L204.9 1033.4 L206.0 1026.9 L207.5 1022.6 L208.9 1023.3 L210.4 1024.7 L211.8 1024.0 L213.3 1029.1 L214.3 1022.6 L215.8 1018.9 L217.6 1016.7 L219.5 1015.3 L221.3 1013.1 L223.5 1010.2 L225.3 1008.0 L227.1 1012.4 L228.8 1010.2 L230.7 1008.0 L232.2 1003.7 L233.6 997.9 L235.1 993.5 L237.2 993.8 L240.1 994.7 L243.0 995.0 L245.2 995.7 L247.4 992.8 L249.6 994.3 L251.8 995.7 L253.2 999.3 L254.7 1005.1 L256.1 1008.0 L257.6 1009.5 L259.0 1012.4 L261.2 1012.1 L263.1 1013.8 L264.8 1017.5 L266.6 1021.8 L268.4 1026.9 L270.6 1030.5 L272.8 1033.4 L274.7 1034.2 L276.4 1032.7 L277.9 1037.1 L279.3 1041.4 L280.8 1047.2 L282.2 1055.9 L290.0 1059.2 L291.2 1069.3 L292.2 1078.8 L293.3 1080.2 L294.4 1075.2 L295.5 1063.5 L297.0 1065.7 L298.7 1067.6 L300.9 1068.6 L303.1 1066.4 L305.2 1067.9 L307.4 1069.1 L309.6 1070.1 L311.5 1070.8 L313.2 1067.9 L314.7 1065.0 L316.1 1066.2 L317.9 1066.7 L319.0 1060.6 L320.5 1057.0 L322.2 1054.8 L324.1 1053.4 L326.3 1052.7 L328.5 1054.1 L330.6 1055.1 L332.8 1055.6 L334.7 1057.7 L336.2 1061.4 L337.6 1065.7 L339.3 1067.6 L341.1 1070.1 L343.0 1067.2 L345.2 1067.9 L347.3 1069.3 L349.5 1071.1 L351.7 1073.0 L353.9 1075.2 L355.3 1078.1 L356.8 1082.4 L358.5 1086.0 L360.0 1091.1 L361.1 1098.4 L362.1 1102.0 L363.3 1098.4 L364.3 1088.2 L365.5 1080.2 L367.6 1081.7 L369.8 1083.9 L372.0 1085.3 L373.9 1086.8 L375.6 1088.9 L377.1 1089.7 L378.2 1083.9 L379.3 1076.6 L380.7 1072.2 L382.2 1068.6 L384.0 1066.4 L385.8 1065.7 L388.0 1067.2 L390.1 1068.2 L392.3 1069.3 L394.5 1070.1 L396.7 1071.5 L398.9 1074.4 L401.0 1077.3 L402.9 1081.0 L404.7 1082.4 L406.1 1084.6 L407.9 1087.5 L409.7 1089.7 L411.6 1091.1 L413.4 1088.9 L415.1 1091.1 L417.0 1093.7 L419.2 1095.5 L421.3 1096.9 L423.2 1098.4 L425.0 1098.4 L426.7 1100.1 L428.6 1101.0 L430.8 1101.3 L433.0 1099.8 L434.8 1102.0 L436.6 1104.2 L438.3 1106.4 L440.2 1108.5 L442.4 1108.5 L444.1 1110.7 L445.6 1112.9 L447.0 1113.6 L448.5 1112.2 L450.4 1109.7 L451.8 1105.6 L452.8 1103.5 L454.7 1103.9 L456.9 1103.9 L458.1 1098.4 L459.1 1092.6 L460.5 1087.5 L462.0 1083.9 L463.4 1080.2 L464.9 1077.8 L467.1 1078.3 L469.2 1079.2 L471.4 1080.2 L473.2 1081.7 L474.6 1086.0 L476.1 1091.1 L478.0 1095.5 L479.8 1099.8 L481.6 1103.5 L483.0 1108.5 L484.2 1111.1 L485.2 1107.1 L485.9 1092.6 L486.7 1070.8 L487.4 1049.0 L488.1 1027.3 L488.6 980.0 L489.0 960.2 L489.6 960.2 L490.3 1000.0 L491.0 1035.0 L491.5 1049.0 L492.0 1078.1 L492.6 1105.6 L493.9 1104.9 L495.4 1105.6 L496.8 1104.9 L498.7 1107.1 L500.4 1109.3 L501.9 1107.1 L503.1 1103.5 L504.8 1102.7 L505.5 1104.9 L506.3 1092.6 L507.0 1084.6 L508.4 1081.7 L509.9 1077.3 L511.3 1070.8 L512.8 1063.5 L514.2 1059.9 L516.1 1057.4 L517.9 1055.1 L519.3 1055.6 L520.8 1058.0 L521.9 1053.4 L523.4 1048.3 L525.1 1049.0 L527.3 1050.8 L529.2 1054.5 L530.9 1058.9 L532.7 1058.5 L534.6 1057.7 L536.7 1059.5 L538.9 1061.8 L540.8 1063.5 L542.5 1066.4 L544.7 1067.2 L546.2 1069.3 L547.6 1072.2 L549.1 1079.5 L550.5 1086.0 L551.7 1081.0 L552.7 1075.9 L554.4 1076.6 L555.9 1081.0 L557.3 1085.3 L559.2 1086.8 L561.4 1086.0 L563.6 1086.5 L565.8 1087.9 L568.4 1090.0 L570.8 1091.8 L572.7 1089.7 L574.2 1088.2 L575.6 1090.4 L577.4 1092.6 L578.8 1095.2 L580.3 1097.2 L582.5 1095.5 L583.9 1097.6 L585.4 1100.1 L587.2 1102.7 L590.8 1104.9 L592.3 1101.3 L594.0 1098.4 L595.4 1095.8 L597.3 1095.5 L598.8 1097.6 L600.2 1098.4 L601.3 1095.5 L602.4 1094.0 L603.6 1099.8 L604.6 1103.0 L606.0 1100.6 L607.9 1098.4 L609.7 1096.9 L610.8 1093.3 L611.9 1089.7 L613.3 1089.4 L614.8 1091.1 L616.2 1090.4 L618.1 1091.1 L619.8 1091.4 L622.0 1091.1 L624.2 1090.8 L626.4 1091.8 L627.8 1094.0 L628.8 1098.4 L629.7 1105.6 L630.6 1111.1 L631.7 1108.5 L632.9 1105.6 L634.3 1103.5 L635.8 1102.4 L637.2 1104.9 L638.4 1110.0 L639.4 1115.8 L640.9 1118.7 L642.3 1117.2 L643.8 1111.4 L645.2 1107.8 L646.7 1107.1 L648.1 1110.7 L649.6 1115.8 L651.0 1120.9 L652.1 1124.2 L653.9 1123.3 L656.1 1122.8 L657.6 1124.5 L659.0 1128.1 L660.5 1128.6 L661.9 1126.0 L663.7 1124.5 L664.8 1127.4 L666.3 1130.0 L668.5 1132.0 L670.3 1130.3 L672.1 1128.9 L674.3 1127.7 L676.4 1126.7 L678.6 1127.7 L680.8 1129.1 L683.0 1131.0 L685.1 1132.9 L687.3 1134.7 L689.5 1135.8 L691.7 1137.6 L693.1 1141.2 L695.0 1144.1 L696.8 1146.3 L698.5 1147.7 L700.1 1149.2 L700.7 1157.9 L701.1 1168.0 L701.7 1173.8 L702.9 1170.9 L704.0 1166.6 L705.5 1164.8 L707.2 1166.6 L709.1 1168.8 L710.1 1175.3 L711.0 1182.6 L712.0 1186.9 L713.4 1185.5 L714.9 1184.7 L716.3 1185.2 L717.4 1179.7 L718.2 1172.4 L718.8 1179.7 L719.7 1182.6 L720.7 1176.7 L721.7 1168.0 L722.6 1163.7 L723.6 1169.5 L725.1 1173.8 L726.5 1178.2 L728.0 1182.6 L729.4 1186.2 L731.3 1188.1 L733.0 1188.7 L734.5 1192.0 L735.7 1193.4 L736.4 1186.9 L737.0 1150.6 L737.4 1107.1 L737.8 1063.5 L738.4 1009.7 L739.1 983.5 L739.9 984.3 L740.7 1002.4 L741.4 1021.3 L742.1 1032.1 L742.9 1016.9 L743.6 998.0 L744.6 984.3 L745.6 980.6 L746.5 966.8 L747.5 969.0 L748.5 977.7 L749.4 987.9 L750.4 1002.4 L751.4 1016.9 L752.6 1027.8 L753.6 1016.9 L754.5 995.1 L755.2 973.4 L755.9 954.5 L756.6 947.5 L757.7 951.6 L758.4 964.7 L759.8 966.1 L760.6 980.6 L761.3 995.1 L762.0 1006.7 L763.0 1009.7 L764.2 1008.2 L765.2 995.1 L766.1 973.4 L766.8 951.6 L767.5 949.9 L768.5 957.4 L769.3 969.0 L770.3 985.0 L771.4 1002.4 L772.6 1016.9 L773.6 1031.4 L774.3 1038.7 L775.4 1024.2 L776.5 1002.4 L777.5 983.5 L778.7 977.4 L779.7 985.0 L780.4 1002.4 L781.3 1011.4 L782.3 1006.7 L783.3 999.5 L784.8 995.9 L785.7 987.9 L786.5 951.6 L787.4 908.1 L788.1 881.2 L789.2 880.5 L789.7 908.1 L790.3 937.1 L791.0 966.1 L791.8 980.6 L792.5 994.4 L793.5 987.9 L794.4 973.4 L795.4 954.5 L796.1 945.8 L797.1 945.1 L798.0 954.5 L799.0 956.0 L799.7 966.1 L800.5 977.0 L801.6 977.7 L802.6 973.4 L803.8 971.9 L804.5 963.2 L805.6 960.3 L806.6 961.8 L807.4 966.1 L808.5 977.7 L809.5 982.1 L810.2 995.1 L810.9 1016.9 L811.6 1024.2 L812.5 1014.0 L813.5 998.0 L814.7 987.9 L815.7 986.4 L816.7 993.7 L817.9 1002.4 L819.3 1008.2 L820.8 1007.5 L822.2 1005.3 L823.4 995.1 L824.4 985.0 L825.6 978.4 L826.6 977.0 L827.8 979.9 L828.8 995.1 L829.5 1009.7 L830.2 1019.1 L831.7 1015.5 L832.7 1006.7 L833.6 987.9 L834.6 969.0 L835.6 964.7 L836.5 951.6 L837.2 941.4 L838.2 942.9 L838.9 954.5 L839.9 963.2 L840.7 945.8 L841.8 944.3 L842.9 948.7 L843.7 937.1 L844.7 925.5 L845.8 922.6 L846.6 925.5 L847.6 940.0 L848.4 958.9 L849.4 980.6 L850.5 999.5 L851.6 995.1 L852.7 987.9 L853.9 973.4 L854.9 963.2 L855.6 958.9 L856.8 964.7 L857.8 977.7 L858.8 987.9 L860.0 995.1 L860.7 995.9 L861.7 985.0 L862.9 973.4 L864.0 960.3 L865.1 948.7 L866.1 940.0 L867.2 937.8 L868.4 942.9 L869.4 960.3 L870.1 977.7 L871.6 982.8 L872.3 974.8 L873.0 954.5 L873.8 940.0 L874.5 934.2 L875.2 931.3 L875.9 935.6 L876.7 925.5 L877.7 924.7 L878.6 928.4 L879.3 922.6 L880.3 924.0 L881.0 913.9 L881.7 908.8 L882.5 915.3 L883.2 905.2 L883.9 890.6 L884.4 876.8 L885.4 872.0 L886.3 868.1 L887.6 863.3 L889.0 857.4 L890.2 851.6 L890.8 844.9 L891.9 843.9 L893.4 840.0 L894.8 836.1 L895.8 826.5 L896.6 825.5 L897.8 829.4 L899.2 830.8 L900.2 835.2 L901.1 836.1 L901.6 842.9 L902.6 847.8 L904.0 851.6 L905.5 851.4 L907.0 847.8 L908.2 846.8 L908.9 854.5 L909.9 860.3 L910.8 866.2 L911.8 876.3 L912.8 872.0 L913.7 867.1 L914.7 857.4 L915.7 845.8 L916.4 836.1 L917.1 842.9 L917.8 858.4 L918.6 854.5 L920.0 854.7 L921.5 855.5 L922.4 858.9 L923.9 859.2 L925.3 858.4 L926.6 856.5 L927.3 849.7 L928.2 842.9 L929.2 837.1 L930.2 834.2 L930.9 828.4 L931.6 823.6 L933.1 822.4 L934.5 822.6 L935.3 828.4 L936.5 833.2 L937.4 838.1 L938.2 843.9 L938.9 845.8 L939.6 839.1 L940.8 836.6 L942.3 835.2 L943.3 832.3 L944.2 826.5 L945.0 823.6 L945.7 818.7 L946.4 817.9 L947.1 825.5 L947.6 835.2 L948.3 843.9 L949.3 847.8 L950.0 852.1 L950.8 853.6 L952.0 853.1 L952.7 847.8 L953.2 834.2 L953.9 832.8 L954.7 838.1 L955.4 831.3 L956.1 828.4 L956.8 834.2 L957.3 845.8 L958.0 853.6 L958.7 856.0 L959.7 850.7 L960.5 855.5 L961.2 859.4 L962.1 856.5 L963.6 851.6 L964.5 849.7 L965.5 842.0 L966.5 838.1 L967.5 830.3 L968.2 828.2 L968.9 838.1 L969.6 847.8 L970.4 855.5 L971.1 856.5 L971.8 862.3 L972.6 853.6 L973.3 845.8 L974.2 844.4 L975.0 849.7 L975.5 838.1 L976.0 823.6 L976.5 824.0 L976.9 838.1 L977.4 851.6 L978.1 857.4 L978.9 867.1 L979.6 876.8 L980.2 881.6 L981.0 876.8 L981.8 867.1 L982.5 855.5 L982.9 845.8 L983.9 844.9 L984.9 842.0 L985.7 836.1 L986.3 836.0 L987.0 842.9 L987.8 852.6 L988.6 861.8 L989.7 862.3 L990.5 861.3 L991.7 864.7 L992.6 860.3 L993.6 855.5 L995.0 854.5 L996.3 855.5 L997.5 858.4 L998.2 865.2 L998.9 871.0 L999.6 872.7 L1000.9 870.0 L1001.8 867.1 L1002.8 865.2 L1003.3 857.4 L1003.8 849.7 L1004.7 845.8 L1005.7 841.0 L1006.2 838.1 L1007.1 840.0 L1007.8 830.3 L1008.3 819.7 L1009.1 828.4 L1009.8 826.5 L1010.2 814.8 L1011.0 816.8 L1011.8 811.9 L1012.5 804.2 L1013.4 799.8 L1014.4 800.3 L1015.9 801.8 L1017.3 802.7 L1018.0 809.0 L1018.8 818.7 L1019.5 826.5 L1020.2 829.9 L1021.2 826.5 L1022.1 827.9 L1023.4 827.0 L1024.1 821.6 L1025.1 812.9 L1026.0 808.1 L1026.7 811.9 L1027.3 817.8 L1028.0 811.9 L1028.6 812.9 L1029.4 820.7 L1030.2 828.4 L1030.9 818.7 L1031.8 809.0 L1032.8 807.1 L1034.2 806.6 L1035.4 807.6 L1036.2 805.7 L1037.2 805.2 L1037.9 809.0 L1038.6 818.7 L1039.3 828.4 L1040.1 836.6 L1040.8 834.2 L1041.5 826.5 L1042.5 820.7 L1043.4 819.7 L1044.4 819.2 L1045.4 816.8 L1046.2 816.6 L1046.8 823.6 L1047.6 834.2 L1048.3 843.9 L1049.3 846.8 L1050.2 850.2 L1051.2 849.2 L1052.2 848.5" stroke="#000" stroke-width="2.5"/>
<path d="M142.9 977.6 L144.1 982.6 L145.1 984.1 L146.5 987.7 L148.0 992.1 L149.4 993.5 L150.9 992.1 L152.0 995.0 L153.1 997.9 L154.1 993.5 L155.2 986.3 L156.4 983.4 L157.4 982.6 L158.6 976.1 L159.6 970.3 L160.8 963.0 L161.8 957.2 L163.2 953.6 L164.7 951.4 L166.1 950.0 L167.9 949.3 L169.3 951.4 L170.8 954.3 L172.2 956.5 L173.7 960.1 L175.1 958.7 L176.6 961.6 L178.5 964.5 L180.3 967.4 L182.1 970.3 L184.0 968.1 L185.7 971.0 L187.6 974.7 L189.3 979.7 L190.8 984.8 L192.0 990.6 L193.0 997.9 L194.0 1004.8 L195.2 999.3 L196.6 993.5 L198.1 992.8 L200.2 990.6 L202.4 990.3 L204.6 991.3 L206.8 993.5 L208.9 992.8 L211.1 989.2 L212.6 987.7 L214.0 981.9 L215.5 981.2 L216.9 986.3 L217.9 989.2 L218.8 976.1 L219.8 966.0 L221.3 960.1 L222.7 956.5 L224.9 952.9 L226.8 951.4 L228.5 955.1 L230.0 952.9 L231.7 948.5 L232.9 941.3 L234.0 936.9 L235.5 934.7 L238.0 935.2 L240.9 936.2 L243.8 938.4 L246.7 941.3 L248.9 944.2 L251.0 948.5 L252.9 953.6 L254.7 960.1 L256.1 966.0 L257.6 969.6 L259.7 972.5 L261.9 974.7 L264.1 980.5 L266.3 987.7 L268.4 996.4 L270.6 1000.8 L272.8 1001.5 L274.7 1000.1 L276.4 1005.1 L278.6 1010.9 L280.5 1016.7 L281.9 1024.0 L283.0 1032.7 L283.7 1038.5 L284.6 1026.9 L285.4 1024.0 L286.6 1029.8 L288.0 1035.6 L289.8 1038.5 L291.2 1042.9 L292.4 1046.1 L293.6 1042.6 L295.0 1044.3 L296.7 1045.8 L298.2 1046.5 L299.7 1041.4 L301.1 1035.6 L302.6 1029.8 L304.0 1024.0 L305.7 1021.1 L307.6 1019.7 L309.5 1018.9 L311.3 1021.1 L313.4 1017.5 L315.3 1016.7 L317.1 1018.9 L318.8 1013.8 L320.7 1006.6 L322.6 1001.5 L324.3 999.3 L326.5 997.2 L328.2 999.3 L330.1 1005.1 L331.9 1008.0 L333.8 1011.7 L335.9 1016.7 L338.1 1021.1 L340.3 1024.0 L342.5 1026.2 L345.4 1028.4 L348.3 1030.5 L351.2 1033.4 L354.1 1037.1 L356.3 1041.4 L358.4 1045.8 L360.3 1051.6 L361.8 1056.7 L363.5 1050.1 L365.3 1048.4 L367.1 1050.1 L370.0 1050.9 L372.9 1051.3 L375.1 1050.9 L376.9 1044.3 L378.8 1035.6 L380.6 1026.9 L382.4 1019.7 L384.1 1015.3 L385.7 1013.1 L387.5 1014.6 L389.6 1016.7 L391.8 1018.9 L394.0 1021.8 L396.2 1025.5 L398.3 1029.8 L400.5 1035.6 L402.4 1040.7 L404.4 1043.6 L406.3 1047.2 L408.5 1050.1 L410.7 1052.3 L412.9 1051.3 L414.3 1054.5 L416.5 1055.9 L417.0 1056.3 L419.2 1055.6 L421.3 1056.3 L423.5 1054.8 L425.7 1057.7 L427.9 1058.5 L430.1 1056.3 L432.2 1057.0 L434.4 1058.9 L436.6 1060.6 L438.8 1062.4 L440.2 1062.8 L441.7 1059.2 L443.1 1057.0 L445.0 1059.2 L446.7 1060.3 L448.2 1060.6 L449.4 1053.4 L450.4 1046.1 L451.8 1041.0 L453.3 1040.3 L454.7 1043.2 L456.2 1044.7 L457.6 1038.9 L459.1 1033.1 L460.5 1027.3 L462.7 1022.9 L464.9 1020.7 L467.1 1021.5 L469.2 1023.6 L471.4 1026.5 L473.2 1031.6 L474.6 1038.9 L476.5 1044.7 L478.7 1049.0 L480.4 1053.4 L482.3 1057.7 L483.3 1063.5 L484.2 1065.7 L485.2 1060.6 L486.7 1056.3 L488.1 1054.8 L489.1 1041.8 L490.0 1033.8 L491.0 1046.1 L491.7 1063.5 L492.5 1081.0 L493.2 1095.5 L494.6 1099.8 L495.8 1094.0 L496.8 1085.3 L497.8 1076.6 L499.0 1070.8 L500.2 1063.5 L501.2 1056.3 L502.6 1051.2 L504.1 1052.7 L505.1 1054.8 L506.3 1046.1 L507.7 1037.4 L509.2 1028.7 L510.5 1016.7 L511.9 1008.0 L513.4 1001.5 L514.8 999.3 L516.3 997.9 L518.0 996.4 L519.5 997.2 L520.9 992.8 L522.8 990.6 L524.7 991.3 L526.4 994.3 L528.6 997.9 L530.5 1001.5 L531.5 1003.7 L533.4 1000.5 L535.1 1001.1 L537.3 1004.4 L539.5 1008.0 L541.7 1010.9 L543.9 1013.8 L546.0 1017.5 L547.6 1025.8 L549.8 1027.3 L551.2 1022.2 L553.0 1021.5 L554.9 1025.1 L557.1 1029.4 L559.2 1031.6 L561.4 1032.3 L564.3 1034.5 L567.2 1037.4 L569.4 1039.6 L571.6 1038.9 L573.0 1041.8 L574.5 1046.1 L575.9 1049.0 L578.1 1049.0 L579.6 1046.1 L581.0 1041.0 L582.5 1038.9 L584.6 1039.6 L587.9 1041.0 L589.4 1036.0 L591.1 1030.2 L593.0 1027.3 L595.2 1026.1 L597.3 1028.0 L599.5 1029.4 L601.7 1028.0 L603.1 1032.3 L604.6 1035.2 L606.0 1030.2 L607.5 1024.4 L609.2 1018.9 L610.9 1013.8 L612.4 1011.7 L614.2 1013.8 L615.7 1015.6 L617.9 1015.3 L620.1 1016.7 L622.2 1018.9 L628.5 1041.8 L629.7 1049.8 L631.2 1051.2 L632.9 1048.3 L634.6 1046.4 L636.1 1051.2 L637.5 1056.3 L638.7 1058.5 L640.2 1054.1 L641.9 1051.2 L643.8 1049.8 L646.0 1050.8 L648.1 1053.1 L650.3 1056.3 L652.5 1059.2 L654.7 1062.8 L656.8 1066.4 L659.0 1070.1 L660.8 1071.1 L662.6 1070.1 L664.5 1073.0 L666.3 1075.2 L667.7 1070.8 L668.9 1063.5 L669.9 1058.9 L671.4 1057.7 L672.8 1054.8 L674.7 1051.9 L676.7 1050.8 L679.0 1050.5 L681.1 1050.8 L683.4 1052.2 L685.4 1054.8 L687.3 1058.5 L688.8 1062.8 L690.2 1063.5 L691.7 1069.3 L693.1 1074.4 L695.0 1078.8 L696.8 1082.4 L698.5 1086.0 L700.1 1088.2 L701.1 1095.5 L701.8 1102.7 L702.6 1108.5 L703.7 1104.2 L705.2 1102.0 L706.6 1104.2 L708.4 1108.5 L709.8 1115.8 L711.0 1123.8 L712.4 1129.6 L714.2 1133.9 L715.6 1138.3 L717.1 1143.4 L718.5 1148.0 L719.7 1147.7 L720.7 1141.9 L721.9 1138.3 L723.2 1140.5 L724.8 1143.4 L726.5 1148.4 L728.0 1152.4 L729.8 1155.7 L731.6 1159.3 L733.3 1163.0 L735.2 1167.3 L736.7 1173.8 L737.7 1176.7 L738.8 1166.6 L740.3 1168.0 L741.7 1172.4 L743.2 1178.2 L744.4 1181.1 L745.4 1172.4 L746.1 1150.6 L746.8 1121.6 L747.6 1110.7 L748.3 1121.6 L749.0 1139.0 L750.2 1155.7 L751.2 1149.2 L752.6 1143.4 L754.1 1136.1 L755.5 1124.5 L756.3 1107.1 L757.0 1078.1 L757.7 1041.8 L758.4 1021.5 L759.2 1027.3 L759.9 1056.3 L760.6 1082.4 L761.3 1104.2 L762.1 1101.3 L763.2 1097.6 L764.2 1101.3 L765.4 1110.0 L766.4 1120.1 L767.6 1128.1 L768.6 1133.9 L770.1 1130.3 L771.5 1131.8 L772.7 1137.6 L773.7 1141.9 L775.1 1146.3 L776.9 1149.9 L778.8 1148.4 L780.6 1147.7 L782.4 1148.9 L784.6 1150.6 L786.5 1154.3 L788.2 1156.4 L789.6 1155.0 L791.1 1158.6 L792.8 1161.5 L794.7 1163.0 L796.9 1161.5 L799.1 1159.0 L801.3 1161.5 L803.4 1164.4 L805.6 1167.3 L807.8 1168.8 L810.0 1169.2 L812.1 1170.9 L813.6 1171.7 L815.8 1168.8 L817.9 1165.9 L820.1 1163.4 L822.3 1164.4 L824.5 1163.0 L826.7 1160.8 L828.5 1157.2 L830.6 1155.0 L832.5 1149.2 L834.3 1147.0 L836.4 1144.8 L838.3 1141.2 L840.2 1139.7 L842.2 1140.5 L844.1 1137.6 L846.2 1134.7 L848.0 1128.9 L849.9 1124.8 L852.1 1123.0 L854.2 1123.3 L856.4 1124.5 L858.1 1123.8 L860.0 1123.3 L861.9 1126.0 L863.7 1129.6 L865.8 1131.0 L868.0 1132.0 L870.2 1131.8 L872.4 1134.7 L874.6 1135.4 L876.7 1134.9 L878.9 1136.1 L881.6 1144.2 L883.6 1151.6 L885.8 1154.9 L887.9 1156.0 L889.5 1154.0 L891.2 1152.4 L892.8 1154.9 L894.8 1155.4 L896.0 1144.2 L897.1 1141.7 L898.1 1152.4 L899.4 1160.6 L901.1 1165.6 L903.0 1164.7 L904.7 1168.9 L906.3 1172.5 L908.0 1172.1 L909.3 1166.4 L910.4 1165.2 L912.1 1168.9 L913.7 1163.1 L915.4 1157.3 L917.0 1152.4 L919.2 1147.5 L921.1 1145.8 L923.6 1146.1 L925.2 1143.4 L926.9 1139.2 L928.5 1136.8 L930.2 1139.2 L932.3 1136.8 L934.0 1131.8 L935.9 1127.7 L937.6 1122.8 L939.5 1121.5 L941.7 1122.8 L944.2 1125.3 L946.6 1125.8 L949.1 1126.9 L951.6 1131.0 L954.0 1135.1 L956.5 1137.6 L959.0 1139.2 L961.4 1140.9 L963.9 1143.4 L966.4 1147.5 L968.8 1149.9 L971.3 1153.2 L973.8 1156.5 L975.4 1160.6 L976.7 1166.4 L977.9 1167.2 L979.2 1159.8 L980.3 1160.6 L982.0 1163.1 L984.0 1166.4 L985.6 1168.0 L987.3 1165.2 L988.9 1167.2 L990.2 1168.5 L991.5 1162.3 L993.2 1154.0 L995.2 1144.2 L997.1 1136.0 L999.3 1133.5 L1001.7 1133.5 L1005.0 1134.3 L1008.3 1135.1 L1010.8 1136.0 L1013.2 1139.2 L1015.2 1142.5 L1017.4 1145.8 L1019.0 1142.2 L1020.6 1145.0 L1022.8 1148.3 L1024.8 1152.4 L1027.2 1153.2 L1029.7 1155.7 L1032.2 1158.2 L1034.6 1160.6 L1036.3 1158.2 L1037.9 1155.7 L1040.4 1157.0 L1042.9 1158.7 L1045.3 1159.8 L1047.8 1160.3 L1050.3 1163.1 L1052.7 1167.2 L1055.2 1170.5 L1057.7 1172.1 L1060.1 1174.6 L1061.8 1173.8 L1063.9 1170.5 L1065.9 1166.4 L1067.5 1164.2 L1069.2 1166.4 L1070.8 1167.2 L1072.5 1162.3 L1074.1 1152.4 L1075.8 1147.5 L1077.4 1146.6 L1079.0 1142.5 L1081.0 1144.2 L1082.7 1147.5 L1084.0 1149.1 L1085.6 1145.0 L1086.9 1143.8 L1088.6 1148.3 L1090.2 1154.9 L1091.9 1159.0 L1093.9 1161.4 L1095.0 1157.3 L1096.0 1144.2 L1097.1 1132.7 L1098.1 1111.3 L1099.1 1086.6 L1100.1 1053.7 L1101.3 1020.8 L1102.4 987.9 L1103.4 980.5 L1104.5 996.1 L1105.7 1012.6 L1106.7 1037.3 L1107.8 1061.9 L1109.0 1076.7 L1110.3 1081.7 L1111.6 1070.2 L1112.8 1053.7 L1113.9 1040.5 L1115.2 1037.3 L1116.9 1036.4 L1118.0 1025.7 L1119.0 1024.9 L1120.2 1032.3 L1121.5 1043.8 L1122.6 1053.7 L1123.8 1066.9 L1125.1 1075.1 L1126.4 1073.1 L1128.1 1068.5 L1129.7 1066.9 L1131.4 1070.2 L1132.5 1080.0 L1133.7 1091.5 L1134.6 1095.6 L1135.8 1086.6 L1137.0 1075.1 L1138.3 1068.5 L1139.6 1067.7 L1141.6 1069.3 L1143.2 1070.2 L1144.8 1072.1 L1147.3 1073.4 L1149.5 1076.7 L1151.1 1083.3 L1152.7 1089.9 L1154.4 1096.5 L1156.0 1100.6 L1158.0 1108.0 L1160.0 1112.9 L1162.1 1117.9 L1164.3 1121.5 L1165.9 1118.7 L1167.5 1115.9 L1169.2 1117.0 L1171.2 1119.5 L1173.1 1121.5 L1175.3 1120.3 L1177.4 1119.2 L1179.4 1117.9 L1181.9 1119.5 L1184.0 1118.7 L1185.6 1115.4 L1186.8 1114.2 L1188.4 1117.0 L1190.9 1119.5 L1192.6 1121.1 L1194.5 1122.0 L1196.2 1117.9 L1197.5 1114.6 L1199.5 1117.9 L1201.6 1119.5 L1203.2 1117.0 L1204.9 1112.9 L1206.5 1107.2 L1208.2 1101.4 L1209.8 1099.8 L1212.3 1099.4 L1214.8 1098.1 L1216.6 1099.6 L1218.0 1102.0 L1219.6 1097.9 L1221.6 1092.2 L1223.6 1087.2 L1225.2 1082.3 L1226.8 1078.2 L1229.0 1076.9 L1231.5 1077.4 L1233.4 1079.0 L1235.6 1077.4 L1237.2 1076.2 L1239.3 1077.9 L1241.3 1079.5 L1243.3 1081.1 L1244.9 1084.8 L1246.3 1089.7 L1247.9 1087.2 L1249.2 1088.9 L1250.9 1093.0 L1252.5 1095.0 L1254.2 1092.2 L1255.3 1086.4 L1256.5 1080.6 L1257.8 1076.9 L1259.7 1077.4 L1261.9 1077.9 L1263.5 1079.5 L1265.2 1076.9 L1266.8 1074.6 L1269.0 1075.7 L1270.9 1077.4 L1272.9 1079.0 L1274.5 1079.8 L1276.7 1077.9 L1278.8 1080.2 L1280.5 1081.1 L1282.1 1076.5 L1283.8 1070.0 L1285.4 1063.4 L1287.1 1057.6 L1288.7 1052.7 L1290.3 1049.9 L1292.3 1048.6 L1294.8 1046.1 L1296.9 1046.9 L1299.2 1048.2 L1301.4 1050.2 L1303.5 1052.7 L1305.5 1056.0 L1307.1 1060.1 L1308.8 1065.8 L1310.4 1071.6 L1312.1 1076.5 L1314.0 1079.8 L1315.7 1085.6 L1317.3 1092.2 L1319.5 1094.6 L1321.6 1097.1 L1323.2 1102.0 L1324.9 1107.8 L1326.9 1111.9 L1328.5 1116.0 L1330.2 1118.5 L1331.8 1122.6 L1333.4 1123.4 L1334.8 1121.0 L1336.4 1125.9 L1338.4 1129.2 L1340.3 1132.5 L1342.5 1135.8 L1344.6 1139.9 L1346.6 1144.0 L1348.6 1148.1 L1349.6 1150.8 L1350.5 1154.9 L1351.3 1158.4 L1352.5 1159.3 L1354.0 1158.4 L1354.9 1156.4 L1355.8 1155.5 L1356.5 1157.0 L1357.3 1159.6 L1358.1 1161.4 L1359.3 1162.6 L1360.2 1160.8 L1360.8 1155.5 L1361.4 1149.6 L1361.9 1147.5 L1362.6 1148.4 L1363.2 1153.1 L1363.6 1161.4 L1364.1 1168.5 L1364.5 1176.2 L1364.9 1182.1 L1365.8 1185.1 L1366.7 1181.5 L1367.3 1176.2 L1367.9 1171.4 L1368.5 1169.1 L1369.4 1168.5 L1370.3 1167.9 L1370.9 1164.9 L1371.4 1158.4 L1372.0 1149.6 L1372.6 1143.7 L1373.2 1146.6 L1373.8 1151.3 L1374.7 1150.8 L1375.1 1143.7 L1375.5 1134.8 L1375.9 1128.3 L1376.5 1128.0 L1377.1 1131.8 L1377.7 1137.7 L1378.5 1143.7 L1379.7 1148.4 L1380.9 1153.7 L1381.8 1156.7 L1382.6 1157.0 L1383.3 1153.1 L1383.9 1147.8 L1384.5 1144.8 L1385.3 1144.8 L1387.4 1139.9 L1389.4 1133.3 L1391.3 1130.0 L1393.0 1127.5 L1394.3 1122.6 L1395.6 1118.5 L1396.8 1118.0 L1398.4 1121.0 L1400.6 1122.9 L1402.5 1122.3 L1405.0 1124.2 L1407.1 1126.7 L1409.1 1129.2 L1411.1 1130.0 L1413.2 1126.7 L1415.4 1128.4 L1417.3 1131.6 L1419.3 1134.9 L1421.0 1136.6 L1422.6 1134.1 L1424.2 1131.6 L1426.4 1133.8 L1428.0 1129.2 L1429.7 1127.5 L1431.8 1126.7 L1433.8 1122.6 L1435.8 1120.1 L1437.9 1118.5 L1440.0 1116.0 L1442.0 1113.5 L1444.0 1111.1 L1446.1 1109.4 L1447.8 1107.8 L1449.9 1108.6 L1451.9 1104.5 L1453.9 1101.2 L1456.0 1098.7 L1458.5 1096.3 L1460.4 1094.6 L1462.1 1094.3 L1463.4 1089.7 L1465.0 1085.6 L1466.7 1082.3 L1468.3 1080.6 L1470.8 1081.1 L1473.3 1081.1 L1475.7 1081.8 L1478.2 1082.8 L1480.7 1083.9 L1483.1 1086.1 L1485.6 1088.9 L1487.7 1090.0 L1489.7 1090.0 L1491.7 1091.3 L1493.8 1094.6 L1495.5 1099.6 L1497.1 1106.1 L1498.8 1112.7 L1500.4 1116.8 L1502.5 1118.0 L1504.5 1116.8 L1506.5 1119.3 L1508.6 1122.6 L1510.8 1125.9 L1512.7 1126.2 L1514.7 1129.2 L1516.9 1134.1 L1519.0 1137.4 L1520.6 1140.4 L1522.3 1136.6 L1524.3 1136.6 L1525.9 1132.5 L1527.6 1127.5 L1529.5 1121.8 L1531.2 1114.4 L1532.8 1109.4 L1534.5 1107.0 L1536.6 1106.5 L1538.7 1107.0 L1540.7 1103.7 L1542.7 1099.6 L1544.8 1099.2 L1546.5 1096.3 L1548.1 1091.3 L1549.8 1086.4 L1551.6 1084.6 L1553.6 1082.2 L1555.8 1083.8 L1557.9 1085.5 L1559.9 1086.3 L1561.8 1085.5 L1564.0 1087.9 L1566.1 1092.0 L1568.4 1095.3 L1570.6 1097.8 L1573.0 1099.4 L1575.5 1101.1 L1577.6 1102.7 L1579.6 1106.8 L1582.1 1110.1 L1584.5 1112.6 L1586.5 1115.1 L1588.2 1116.7 L1589.5 1120.8 L1590.8 1126.6 L1591.9 1128.2 L1593.1 1123.3 L1594.4 1122.5 L1596.1 1124.9 L1597.7 1127.4 L1599.4 1128.7 L1601.0 1125.8 L1602.3 1124.9 L1603.5 1126.6 L1604.6 1119.2 L1605.9 1111.0 L1607.2 1101.1 L1608.9 1094.5 L1610.5 1087.9 L1612.2 1084.6 L1614.2 1083.8 L1616.6 1083.8 L1619.1 1084.6 L1621.6 1085.9 L1624.0 1087.9 L1626.5 1090.4 L1628.6 1093.7 L1630.3 1096.1 L1632.3 1097.0 L1634.2 1099.4 L1636.4 1102.7 L1638.5 1106.0 L1640.1 1107.3 L1642.1 1106.8 L1644.1 1109.3 L1646.2 1109.6 L1648.4 1110.1 L1650.3 1108.5 L1652.3 1107.7 L1654.5 1109.0 L1656.6 1110.1 L1658.6 1111.0 L1660.5 1108.5 L1662.2 1108.0 L1664.3 1110.1 L1666.5 1111.8 L1668.4 1112.9 L1670.9 1112.3 L1673.0 1115.1 L1675.0 1117.2 L1676.7 1115.9 L1678.0 1111.0 L1679.6 1105.2 L1681.3 1102.7 L1683.2 1105.2 L1684.9 1107.7 L1686.5 1101.1 L1688.2 1092.9 L1689.8 1087.1 L1691.5 1084.6 L1693.1 1082.7 L1695.1 1083.3 L1697.2 1084.6 L1699.4 1086.3 L1701.3 1088.7 L1703.0 1094.5 L1704.6 1100.3 L1706.3 1104.4 L1707.9 1107.7 L1709.9 1109.3 L1712.0 1110.1 L1713.7 1114.2 L1715.0 1118.8 L1716.1 1119.2 L1717.0 1102.7 L1717.8 1078.1 L1718.6 1055.0 L1719.4 1046.5 L1720.8 1046.8 L1721.6 1069.8 L1722.4 1094.5 L1723.2 1119.2 L1724.0 1131.5 L1725.2 1135.6 L1726.8 1134.8 L1728.5 1130.7 L1730.1 1124.1 L1731.0 1111.0 L1731.8 1100.3 L1732.9 1098.6 L1734.2 1091.2 L1735.9 1085.5 L1737.5 1083.8 L1739.5 1081.3 L1740.8 1074.8 L1742.5 1069.8 L1744.4 1067.9 L1746.6 1066.2 L1748.7 1066.9 L1749.9 1063.2 L1751.0 1057.5 L1752.3 1053.4 L1754.3 1054.2 L1756.4 1055.0 L1758.6 1055.3 L1760.6 1053.4 L1762.5 1052.6 L1763.9 1055.0 L1765.5 1057.5 L1768.0 1059.1 L1770.4 1060.0 L1772.9 1061.6 L1774.5 1064.9 L1776.2 1067.4 L1777.8 1068.2 L1779.5 1065.7 L1780.6 1064.9 L1782.3 1067.4 L1784.4 1069.8 L1786.6 1070.6 L1788.5 1067.4 L1790.5 1064.9 L1792.6 1064.1 L1795.1 1064.9 L1797.6 1064.9 L1800.0 1064.1 L1801.7 1066.5 L1803.3 1071.5 L1805.3 1073.1 L1807.4 1073.4 L1809.1 1069.8 L1810.7 1066.2 L1812.4 1068.2 L1814.5 1069.5 L1816.5 1066.5 L1818.1 1060.0 L1819.8 1053.4 L1821.8 1050.9 L1823.9 1048.8 L1826.4 1048.1 L1828.8 1048.4 L1830.5 1050.1 L1832.1 1051.7 L1833.8 1046.8 L1835.9 1040.2 L1837.9 1034.5 L1839.9 1029.5 L1841.5 1028.4 L1843.6 1028.4 L1846.1 1029.0 L1848.6 1029.5 L1851.0 1028.4 L1853.5 1030.3 L1856.0 1032.8 L1857.6 1036.9 L1858.9 1041.9 L1860.6 1043.2 L1862.2 1041.9 L1863.4 1045.2 L1865.0 1049.3 L1866.7 1049.8 L1868.3 1045.2 L1869.6 1038.6 L1871.6 1035.3 L1874.1 1036.6 L1876.5 1037.3 L1879.0 1036.1 L1881.0 1034.5 L1883.1 1036.1 L1885.6 1038.6 L1887.2 1040.2 L1894.5 1040.6 L1895.9 1035.2 L1896.9 1029.5 L1898.4 1022.4 L1899.8 1016.8 L1901.2 1011.8 L1902.6 1008.2 L1904.0 1006.1 L1905.9 1006.8 L1907.6 1003.7 L1909.3 1002.6 L1911.1 1003.0 L1913.3 1004.7 L1915.0 1007.5 L1916.8 1010.4 L1918.6 1013.9 L1920.4 1018.2 L1922.1 1023.1 L1923.9 1028.1 L1925.3 1033.1 L1926.7 1036.6 L1928.2 1039.5 L1929.6 1045.1 L1930.6 1052.2 L1931.4 1056.2 L1932.4 1052.9 L1933.8 1052.0 L1935.3 1052.9 L1936.7 1055.8 L1937.7 1060.8 L1938.8 1066.4 L1940.2 1070.0 L1941.9 1072.8 L1943.8 1074.9 L1945.2 1079.2 L1946.6 1082.0 L1948.0 1080.6 L1949.0 1080.3 L1950.2 1084.9 L1951.6 1088.4 L1953.3 1090.6 L1955.1 1093.4 L1957.0 1096.2 L1958.7 1099.8 L1960.4 1102.6 L1962.2 1106.2 L1963.6 1110.4 L1965.1 1115.4 L1966.5 1118.9 L1968.3 1116.8 L1969.7 1118.9 L1971.4 1122.5 L1973.1 1124.6 L1974.3 1128.9 L1975.4 1136.0 L1976.4 1141.6 L1977.8 1145.2 L1979.2 1143.8 L1980.7 1140.2 L1982.1 1139.1 L1983.5 1140.2 L1984.9 1143.1 L1986.3 1143.8 L1987.5 1141.6 L1988.2 1136.0 L1989.2 1133.1 L1990.6 1136.0 L1992.0 1137.4 L1993.9 1136.7 L1995.3 1138.1 L1996.3 1134.5 L1997.7 1127.4 L1999.1 1120.4 L2000.5 1114.0 L2002.4 1107.6 L2004.1 1101.9 L2005.8 1096.2 L2007.2 1090.6 L2008.3 1083.5 L2009.5 1079.9 L2010.9 1080.3 L2012.3 1082.7 L2014.0 1084.2 L2015.7 1084.9 L2017.6 1085.2 L2019.4 1086.3 L2021.1 1087.7 L2022.5 1088.8" stroke="#7570b3" stroke-width="2.3"/>
<path d="M142.9 986.3 L144.1 990.6 L145.1 995.0 L146.1 1005.1 L147.3 1026.9 L148.4 1044.0 L149.4 1026.9 L150.2 997.9 L150.9 976.1 L151.6 968.1 L152.8 964.5 L153.8 957.2 L154.8 955.1 L156.0 952.9 L157.1 944.2 L158.1 941.3 L159.6 928.2 L161.0 910.8 L162.5 891.9 L163.5 880.3 L164.7 877.7 L165.8 878.1 L166.9 883.2 L167.9 891.2 L169.0 894.8 L170.2 895.6 L171.2 899.2 L172.2 903.5 L173.7 906.4 L175.1 912.2 L176.3 917.3 L177.4 923.9 L178.9 929.7 L180.3 934.0 L181.8 938.4 L182.8 944.2 L183.5 950.0 L184.7 944.9 L185.9 943.9 L186.7 948.5 L187.9 954.3 L188.6 964.5 L189.3 973.2 L190.2 961.6 L191.1 951.4 L192.0 950.7 L192.7 952.9 L193.4 970.3 L194.3 986.0 L195.2 973.2 L196.0 952.9 L196.9 943.9 L197.8 943.5 L198.6 947.8 L199.5 951.4 L200.7 948.5 L201.7 942.7 L202.7 935.5 L203.9 928.2 L205.0 927.9 L206.5 930.4 L208.2 932.6 L209.7 934.7 L211.1 935.5 L212.6 931.8 L214.0 929.7 L215.0 923.9 L216.1 917.3 L216.9 915.9 L217.9 921.0 L219.1 921.7 L220.1 917.3 L221.3 912.2 L222.4 907.9 L223.5 902.1 L224.5 893.4 L225.6 891.2 L226.6 897.7 L227.8 905.0 L228.8 908.6 L230.0 906.4 L231.1 902.8 L232.6 900.6 L233.6 898.5 L234.6 897.4 L235.5 886.1 L236.5 878.1 L237.5 875.7 L238.7 875.7 L239.9 878.1 L240.9 884.7 L241.9 889.0 L242.8 892.7 L243.3 902.1 L244.2 894.8 L245.2 902.8 L246.0 915.9 L246.7 902.1 L247.4 899.2 L248.1 915.2 L248.9 903.5 L249.9 914.4 L251.0 902.1 L252.5 901.4 L253.6 899.2 L254.7 897.7 L255.7 902.1 L256.8 903.5 L257.9 906.4 L259.0 910.8 L260.2 915.2 L261.2 918.1 L262.4 919.5 L263.4 921.7 L264.4 928.2 L265.1 935.5 L266.0 945.6 L266.7 935.5 L267.7 934.7 L268.4 944.2 L269.5 950.0 L270.3 955.8 L271.3 958.0 L272.4 955.8 L273.5 955.1 L274.7 957.2 L276.1 960.9 L277.6 964.5 L279.0 968.9 L280.5 973.2 L281.9 975.4 L283.4 976.1 L284.6 972.5 L285.6 976.1 L286.6 982.6 L287.8 979.7 L288.8 980.5 L289.8 984.1 L290.9 987.0 L292.1 989.9 L292.7 983.4 L293.4 968.9 L294.1 958.7 L295.0 955.8 L296.0 954.3 L297.0 955.1 L298.2 958.7 L299.2 960.1 L300.1 952.9 L301.1 942.7 L302.3 934.0 L303.3 929.7 L304.4 928.2 L305.5 929.4 L306.5 924.6 L307.6 923.1 L309.1 923.6 L310.5 924.6 L312.0 922.4 L313.0 918.1 L313.9 910.8 L314.9 909.3 L315.6 915.2 L316.8 919.5 L318.2 921.7 L319.7 921.0 L320.7 917.3 L321.4 910.8 L322.6 905.7 L323.6 904.3 L324.6 904.7 L325.8 907.2 L326.9 912.2 L328.0 915.9 L329.0 918.1 L330.1 914.4 L331.6 913.7 L333.0 915.2 L334.5 915.9 L335.5 922.4 L336.4 918.1 L337.7 917.8 L338.8 918.8 L339.7 923.9 L340.3 939.8 L340.9 968.9 L341.5 997.9 L342.0 1009.5 L342.8 997.9 L343.5 983.4 L344.4 976.1 L345.4 971.8 L346.4 968.1 L347.3 966.7 L348.3 968.1 L349.7 970.3 L351.2 971.8 L352.6 971.0 L354.1 968.9 L355.5 969.1 L356.7 972.5 L357.7 979.0 L358.9 983.4 L360.3 986.3 L361.3 990.6 L362.1 999.3 L363.1 1008.8 L363.9 997.9 L364.7 983.4 L365.7 973.2 L366.7 968.1 L367.6 970.3 L368.6 973.2 L369.6 971.8 L370.8 964.5 L371.8 954.3 L372.7 945.6 L373.7 944.2 L374.8 941.3 L375.8 942.7 L376.9 939.8 L378.0 935.5 L379.0 926.8 L380.2 918.1 L381.4 913.7 L382.4 916.6 L383.5 918.1 L384.8 915.2 L386.0 917.3 L387.5 921.0 L388.9 925.3 L389.9 930.4 L391.1 931.1 L392.2 926.8 L393.3 922.4 L394.7 920.2 L396.2 919.9 L397.6 922.4 L399.1 928.2 L400.1 935.5 L401.0 948.5 L402.0 959.9 L402.7 950.0 L403.4 936.9 L404.4 931.8 L405.9 931.6 L407.3 932.6 L408.8 934.0 L410.0 939.8 L411.1 946.4 L412.1 942.7 L413.1 936.9 L414.3 929.7 L415.3 926.0 L416.9 926.5 L418.7 927.5 L420.8 928.5 L422.3 925.3 L423.7 918.1 L424.9 914.4 L426.6 914.9 L428.4 914.4 L430.3 913.0 L432.0 910.8 L433.2 911.5 L434.6 906.7 L436.2 912.2 L437.2 919.5 L438.6 926.8 L440.1 930.4 L441.5 926.8 L442.5 921.0 L443.7 923.9 L444.9 920.2 L446.3 917.3 L447.8 918.1 L449.2 919.8 L450.2 916.6 L451.3 909.3 L452.7 906.4 L454.6 904.3 L456.0 905.0 L457.5 908.6 L458.9 906.4 L460.0 897.7 L460.8 881.8 L461.6 871.6 L462.6 869.9 L464.0 870.2 L465.2 873.1 L466.2 879.6 L467.7 881.8 L469.8 883.2 L472.0 886.1 L473.9 890.5 L475.3 896.3 L476.8 905.0 L478.1 915.2 L479.0 928.2 L479.7 944.2 L480.4 960.1 L481.4 965.2 L482.3 966.0 L483.2 974.7 L484.1 983.4 L484.9 973.2 L485.8 961.6 L486.8 959.9 L488.0 962.3 L489.0 970.3 L490.2 976.1 L491.6 977.6 L493.1 975.4 L494.5 970.3 L495.7 961.6 L496.7 950.0 L497.7 935.5 L498.6 926.8 L499.9 921.7 L501.0 918.1 L501.8 915.6 L502.9 919.5 L504.2 926.0 L505.4 921.0 L506.4 909.3 L507.6 903.5 L508.7 901.4 L510.0 901.8 L511.2 894.8 L512.2 881.8 L513.1 870.2 L514.1 865.5 L515.3 868.0 L516.3 871.6 L517.7 874.5 L518.7 889.0 L519.6 903.5 L520.6 913.0 L521.6 903.5 L522.5 889.0 L523.5 877.4 L524.7 873.1 L525.7 872.3 L526.7 878.9 L527.9 884.7 L529.0 890.5 L530.1 894.1 L531.1 886.1 L532.2 878.1 L533.7 876.7 L534.9 870.9 L535.9 867.3 L537.0 868.0 L538.0 872.3 L539.5 873.8 L540.7 879.6 L541.7 886.9 L542.7 889.8 L543.9 886.9 L544.9 897.7 L546.0 910.8 L547.0 925.3 L547.9 941.3 L548.9 952.9 L549.9 942.7 L550.8 922.4 L551.5 903.5 L552.3 890.5 L553.3 883.2 L554.3 881.5 L555.5 883.2 L556.9 887.6 L558.4 894.8 L559.8 897.0 L561.0 896.3 L562.0 902.8 L563.0 908.6 L564.2 905.0 L565.2 899.2 L566.3 894.1 L567.5 893.4 L568.5 896.3 L569.7 902.1 L570.7 907.2 L572.2 910.1 L573.6 916.6 L574.6 923.9 L575.8 929.7 L576.9 931.8 L578.0 933.3 L579.1 929.7 L580.1 925.3 L581.2 916.6 L582.0 908.6 L583.0 907.9 L583.9 918.1 L584.8 926.8 L585.9 925.3 L587.1 921.0 L588.6 916.6 L589.6 910.8 L590.6 902.1 L591.7 893.4 L592.9 886.9 L594.2 884.7 L595.4 886.1 L596.1 896.3 L597.1 891.9 L598.0 891.2 L599.0 895.6 L600.2 894.8 L601.2 897.7 L602.2 901.4 L603.4 900.6 L604.5 906.4 L605.5 910.1 L607.0 909.3 L608.0 903.5 L609.2 897.0 L610.3 894.8 L611.3 894.1 L612.1 888.3 L613.1 885.4 L614.2 889.8 L615.7 891.2 L617.1 892.7 L618.6 894.5 L620.5 895.6 L622.2 897.0 L623.7 902.1 L624.8 913.7 L625.9 923.9 L626.9 939.8 L627.7 961.6 L628.3 990.6 L628.8 1019.7 L629.2 1048.0 L630.2 1041.4 L630.9 1012.4 L631.7 983.4 L632.4 961.6 L633.4 954.3 L634.1 958.7 L635.0 964.5 L636.0 962.8 L636.7 964.5 L637.5 974.7 L638.2 987.7 L638.9 996.4 L639.6 983.4 L640.4 964.5 L641.1 952.9 L642.3 947.8 L643.7 947.1 L645.2 945.6 L646.2 939.5 L647.2 942.7 L648.1 948.5 L649.1 944.2 L650.1 938.4 L651.0 936.2 L652.0 939.1 L653.0 942.7 L654.2 944.9 L655.6 948.5 L656.8 954.3 L657.8 961.6 L658.5 968.9 L659.5 964.5 L660.7 957.2 L661.7 955.5 L662.9 957.2 L664.0 961.6 L665.0 966.0 L666.5 971.8 L667.7 973.6 L668.7 970.3 L669.4 961.6 L670.1 951.4 L671.1 944.2 L672.3 941.6 L673.0 942.7 L674.0 938.7 L674.8 940.6 L675.6 944.2 L677.1 945.6 L678.8 948.5 L681.0 952.2 L683.2 954.3 L685.4 955.8 L687.5 957.0 L688.7 961.6 L689.7 966.0 L691.2 968.9 L692.6 972.5 L693.8 980.5 L694.8 986.3 L696.2 990.6 L698.0 993.5 L699.9 995.7 L700.9 1002.2 L702.1 1009.5 L703.2 1015.3 L704.5 1017.5 L706.0 1018.9 L707.1 1024.0 L708.3 1028.4 L709.3 1022.6 L710.3 1017.5 L711.5 1016.5 L712.6 1018.2 L713.7 1022.6 L715.1 1029.8 L716.6 1034.2 L718.0 1038.5 L719.5 1041.4 L720.9 1045.8 L722.4 1051.6 L723.8 1055.2 L725.3 1056.7 L726.9 1061.4 L729.0 1065.7 L730.9 1068.6 L732.8 1070.8 L734.5 1074.4 L736.2 1078.1 L738.1 1081.0 L740.3 1083.1 L742.5 1085.3 L744.4 1088.2 L746.1 1091.8 L747.6 1096.9 L748.3 1100.6 L749.7 1099.1 L751.9 1101.3 L754.1 1103.0 L756.3 1105.3 L758.4 1107.8 L759.9 1110.7 L761.3 1115.1 L762.8 1119.4 L764.7 1122.3 L766.1 1120.1 L767.6 1112.9 L768.6 1106.4 L769.6 1100.6 L771.1 1099.8 L772.2 1101.3 L773.2 1092.6 L774.4 1078.1 L775.4 1066.4 L776.6 1051.9 L777.7 1042.5 L779.5 1041.0 L781.7 1043.2 L782.7 1036.0 L783.5 1030.2 L784.6 1036.0 L785.6 1040.3 L786.7 1045.4 L788.2 1041.0 L789.6 1039.2 L791.1 1043.2 L792.3 1051.9 L793.3 1059.2 L794.7 1066.4 L796.2 1070.8 L797.6 1065.0 L799.1 1059.2 L800.5 1058.0 L802.0 1061.4 L803.0 1066.4 L804.2 1071.5 L805.6 1074.4 L806.3 1082.4 L807.1 1092.6 L808.1 1098.4 L809.2 1091.1 L810.3 1082.4 L811.7 1080.2 L813.6 1079.2 L815.8 1078.8 L817.9 1080.2 L819.4 1078.8 L820.8 1076.6 L823.0 1077.3 L824.8 1079.5 L826.7 1081.2 L827.7 1076.6 L828.5 1066.4 L829.6 1059.2 L830.6 1057.0 L831.7 1060.6 L832.9 1064.3 L833.9 1059.2 L835.4 1056.3 L836.8 1057.0 L837.8 1051.9 L839.0 1046.1 L840.2 1043.2 L841.6 1045.4 L843.1 1046.9 L844.1 1042.5 L845.5 1038.6 L847.0 1038.9 L848.0 1031.6 L848.4 1031.4 L849.5 1018.4 L851.0 1013.3 L852.7 1014.7 L854.9 1017.6 L857.1 1019.1 L858.5 1022.7 L860.3 1026.3 L861.5 1027.3 L862.5 1036.0 L863.4 1042.5 L864.4 1041.8 L865.1 1049.0 L866.6 1046.9 L868.0 1041.8 L869.2 1034.5 L870.6 1032.3 L871.6 1037.4 L872.7 1046.1 L873.8 1054.1 L875.3 1058.5 L877.0 1059.2 L878.5 1065.0 L879.6 1072.2 L880.0 1070.2 L881.3 1067.7 L882.5 1073.4 L883.6 1080.0 L884.9 1078.4 L886.6 1080.8 L889.0 1081.7 L891.5 1084.1 L894.0 1087.4 L896.1 1090.7 L897.8 1091.5 L899.7 1087.4 L901.4 1090.7 L903.0 1094.8 L904.7 1098.1 L906.3 1100.6 L907.6 1098.1 L908.8 1086.6 L909.9 1080.0 L910.9 1077.6 L912.1 1081.7 L913.2 1073.4 L914.5 1066.9 L915.9 1061.9 L917.0 1057.3 L918.7 1057.8 L920.3 1059.0 L921.9 1060.3 L923.1 1053.7 L924.4 1049.6 L926.1 1047.1 L927.4 1044.7 L929.0 1045.1 L930.2 1046.3 L931.3 1043.0 L932.6 1042.2 L934.0 1038.9 L935.1 1034.0 L936.3 1025.7 L937.6 1017.5 L938.9 1015.0 L940.0 1018.3 L941.2 1025.7 L942.2 1037.3 L943.3 1045.5 L945.0 1049.6 L946.6 1048.8 L947.8 1040.5 L948.8 1030.7 L949.9 1028.7 L951.1 1033.1 L952.1 1040.5 L953.2 1048.8 L954.4 1057.0 L955.2 1078.4 L956.0 1099.8 L956.8 1086.6 L957.6 1075.1 L959.0 1070.2 L960.6 1065.2 L961.9 1061.6 L963.6 1062.7 L964.7 1068.5 L966.4 1071.8 L968.8 1073.4 L970.5 1080.0 L972.1 1088.2 L973.8 1099.8 L974.9 1116.2 L975.7 1136.0 L976.6 1149.1 L977.4 1127.7 L978.2 1103.1 L979.0 1086.6 L980.0 1079.7 L981.2 1085.0 L982.3 1091.5 L983.6 1096.5 L985.3 1097.3 L986.9 1093.2 L988.1 1090.7 L989.1 1096.5 L990.2 1100.6 L991.4 1089.9 L992.4 1076.7 L993.5 1066.9 L994.7 1066.9 L995.6 1055.3 L996.8 1051.2 L998.4 1050.7 L1000.1 1052.9 L1001.7 1056.2 L1003.4 1059.5 L1005.0 1061.9 L1007.0 1062.7 L1008.6 1066.9 L1010.0 1073.4 L1011.3 1079.2 L1012.9 1081.3 L1014.9 1083.3 L1016.5 1081.7 L1018.2 1078.4 L1019.5 1077.6 L1020.6 1081.7 L1021.8 1086.6 L1023.1 1089.9 L1024.4 1091.5 L1025.9 1087.4 L1027.2 1083.3 L1028.5 1076.7 L1030.0 1073.1 L1031.3 1075.1 L1033.0 1076.4 L1034.6 1076.7 L1036.3 1074.3 L1037.9 1073.4 L1039.6 1073.1 L1041.5 1071.8 L1043.7 1071.0 L1045.3 1065.2 L1047.0 1063.6 L1048.6 1055.3 L1050.3 1053.4 L1051.9 1054.5 L1053.5 1057.0 L1055.2 1053.7 L1056.8 1053.4 L1058.0 1050.4 L1059.3 1057.0 L1060.6 1064.4 L1062.3 1068.2 L1063.9 1063.6 L1065.6 1053.7 L1067.2 1046.3 L1068.4 1048.8 L1070.0 1056.2 L1071.1 1049.6 L1072.5 1043.0 L1073.8 1037.3 L1074.6 1020.8 L1075.8 1014.2 L1077.1 1015.0 L1078.2 1024.1 L1079.0 1037.3 L1080.2 1043.0 L1081.5 1034.0 L1082.8 1032.3 L1084.5 1034.8 L1086.4 1036.4 L1088.1 1034.3 L1089.2 1040.5 L1090.6 1050.4 L1091.9 1059.5 L1093.5 1064.4 L1095.2 1063.6 L1096.3 1066.9 L1097.5 1068.5 L1098.5 1083.3 L1099.6 1094.8 L1100.8 1099.8 L1102.9 1100.6 L1105.0 1096.5 L1107.0 1094.8 L1108.2 1091.5 L1109.1 1083.3 L1110.6 1075.1 L1112.3 1068.5 L1113.9 1064.4 L1115.6 1060.3 L1116.9 1052.1 L1118.2 1042.2 L1119.3 1030.7 L1120.5 1023.3 L1122.1 1021.6 L1124.3 1020.8 L1126.3 1024.9 L1127.6 1017.5 L1128.7 1007.6 L1130.0 1001.9 L1131.7 999.4 L1133.0 1001.9 L1133.8 1014.2 L1134.6 1026.6 L1135.5 1020.8 L1136.6 1001.1 L1137.9 983.0 L1139.1 976.4 L1140.4 975.6 L1141.6 981.3 L1142.7 992.8 L1143.7 1001.1 L1144.8 1003.5 L1146.0 996.1 L1147.3 987.1 L1149.0 984.9 L1151.1 985.4 L1153.1 983.8 L1154.7 984.6 L1156.0 987.9 L1157.7 984.6 L1159.7 983.3 L1161.6 980.5 L1162.9 983.8 L1164.3 988.7 L1165.4 984.6 L1166.6 974.7 L1167.9 970.6 L1169.5 971.5 L1171.2 973.9 L1172.5 971.5 L1174.5 973.9 L1176.1 975.6 L1178.6 978.0 L1180.2 979.7 L1181.9 978.9 L1183.5 984.6 L1185.1 987.9 L1186.3 990.4 L1187.6 997.8 L1188.9 1002.4 L1190.6 1002.7 L1192.2 997.8 L1193.9 994.5 L1195.5 987.9 L1197.2 981.3 L1199.1 982.1 L1200.8 983.0 L1202.1 992.8 L1203.2 1006.8 L1204.4 996.1 L1205.4 979.7 L1206.5 964.9 L1207.8 959.1 L1209.3 958.3 L1211.0 962.4 L1212.6 961.9 L1214.8 960.8 L1216.6 967.1 L1218.3 972.9 L1219.6 974.5 L1221.3 971.3 L1222.4 963.0 L1223.6 954.8 L1224.9 949.9 L1226.2 945.8 L1227.3 947.4 L1228.5 952.3 L1229.8 954.8 L1231.5 955.6 L1232.8 963.0 L1234.4 971.3 L1235.6 966.3 L1237.2 962.2 L1238.9 965.5 L1240.0 972.1 L1241.0 984.4 L1241.8 1005.8 L1242.6 1030.5 L1243.5 1051.9 L1244.6 1061.4 L1245.4 1046.9 L1246.3 1022.3 L1247.1 1002.5 L1247.9 995.1 L1249.1 1002.5 L1250.4 1010.7 L1252.0 1014.0 L1253.7 1005.8 L1255.3 999.2 L1256.9 994.3 L1258.1 984.4 L1259.4 974.5 L1260.7 977.0 L1261.9 984.4 L1263.0 992.6 L1264.4 997.6 L1265.7 1001.7 L1267.6 1001.7 L1269.0 995.1 L1270.1 994.3 L1271.3 996.8 L1272.6 1003.3 L1274.2 1005.8 L1275.5 1012.4 L1276.7 1020.6 L1277.8 1028.0 L1279.2 1019.0 L1280.5 1005.8 L1282.1 994.3 L1283.8 982.8 L1284.9 975.4 L1286.6 973.7 L1288.2 974.5 L1289.4 975.4 L1290.3 984.4 L1291.5 988.5 L1293.1 987.7 L1294.3 980.3 L1295.6 979.5 L1296.9 983.6 L1298.1 992.6 L1299.2 998.4 L1300.5 1000.0 L1301.9 1003.3 L1303.0 1009.1 L1304.2 1016.0 L1305.5 1012.4 L1307.1 1013.2 L1308.8 1017.3 L1310.4 1019.0 L1312.4 1021.4 L1314.5 1023.9 L1315.7 1030.5 L1316.7 1040.3 L1317.8 1047.3 L1319.5 1047.7 L1321.6 1050.2 L1323.6 1053.5 L1325.5 1050.2 L1327.2 1049.9 L1328.5 1055.2 L1330.2 1060.9 L1331.8 1065.8 L1333.4 1069.1 L1335.1 1070.8 L1336.4 1079.8 L1338.0 1084.8 L1340.0 1088.1 L1342.0 1091.3 L1344.1 1093.8 L1345.8 1097.9 L1347.9 1102.0 L1349.9 1106.1 L1351.9 1110.3 L1354.0 1112.4 L1356.1 1114.4 L1358.1 1117.7 L1359.8 1121.0 L1361.4 1125.9 L1362.6 1129.2 L1363.9 1124.2 L1365.5 1125.1 L1367.2 1127.5 L1368.8 1130.0 L1370.0 1134.9 L1371.3 1139.9 L1372.6 1143.2 L1373.7 1138.2 L1375.4 1137.7 L1377.0 1139.9 L1378.7 1141.5 L1380.3 1142.3 L1382.0 1140.7 L1383.1 1132.5 L1384.4 1121.0 L1385.8 1112.7 L1386.9 1101.2 L1388.1 1091.3 L1389.4 1080.6 L1391.0 1074.9 L1392.3 1070.8 L1393.5 1065.0 L1394.6 1066.7 L1395.6 1061.7 L1396.6 1057.1 L1397.6 1065.0 L1398.4 1068.3 L1399.6 1075.7 L1400.6 1068.3 L1401.7 1063.0 L1403.4 1063.4 L1404.7 1066.7 L1405.8 1074.9 L1407.1 1083.1 L1408.8 1088.1 L1410.4 1090.0 L1411.6 1086.4 L1412.7 1078.2 L1414.0 1076.5 L1415.4 1077.9 L1417.0 1079.8 L1418.2 1088.1 L1419.3 1094.6 L1420.6 1102.0 L1421.9 1104.2 L1423.6 1099.6 L1425.2 1096.3 L1426.9 1094.3 L1428.5 1095.5 L1430.5 1097.6 L1432.1 1094.6 L1433.5 1084.8 L1434.6 1080.6 L1436.3 1080.6 L1437.9 1083.1 L1440.0 1085.6 L1441.7 1081.5 L1443.3 1071.6 L1444.5 1064.2 L1446.1 1062.6 L1447.8 1063.4 L1449.9 1065.0 L1451.6 1058.4 L1453.2 1053.5 L1454.8 1055.2 L1456.8 1057.6 L1458.5 1056.0 L1460.1 1054.3 L1461.4 1050.2 L1463.1 1049.9 L1464.2 1045.3 L1465.0 1038.7 L1466.4 1037.5 L1468.0 1038.4 L1469.6 1039.5 L1471.3 1040.3 L1472.9 1043.3 L1474.6 1044.5 L1476.2 1046.9 L1477.4 1053.5 L1479.0 1055.2 L1481.2 1056.0 L1482.3 1050.2 L1483.6 1048.6 L1484.8 1051.9 L1486.1 1060.1 L1487.7 1068.3 L1489.4 1075.7 L1491.0 1081.5 L1492.7 1079.8 L1493.8 1076.5 L1495.0 1075.7 L1496.0 1083.1 L1497.1 1091.3 L1498.8 1097.9 L1500.4 1099.9 L1502.1 1098.7 L1503.2 1093.8 L1504.5 1092.2 L1506.2 1093.8 L1507.8 1098.7 L1509.5 1102.9 L1511.1 1103.7 L1512.7 1102.0 L1514.4 1102.9 L1516.0 1105.3 L1517.7 1106.5 L1519.3 1102.9 L1520.6 1096.3 L1521.8 1086.4 L1522.9 1081.1 L1523.9 1079.8 L1525.1 1084.8 L1526.2 1088.9 L1527.6 1079.8 L1529.2 1076.5 L1530.5 1066.7 L1532.2 1065.0 L1533.3 1056.8 L1534.5 1054.3 L1535.8 1056.8 L1537.4 1053.5 L1538.7 1050.2 L1540.4 1046.1 L1542.0 1048.6 L1543.2 1042.0 L1544.5 1038.4 L1546.0 1041.2 L1547.3 1042.8 L1548.9 1039.5 L1551.3 1028.7 L1552.5 1022.1 L1553.6 1021.3 L1554.9 1027.1 L1556.6 1030.3 L1558.2 1035.3 L1559.5 1031.2 L1561.2 1028.4 L1562.8 1028.7 L1564.0 1033.6 L1565.6 1040.2 L1567.3 1046.8 L1568.4 1055.0 L1569.4 1069.8 L1570.6 1080.0 L1571.7 1071.5 L1573.0 1060.0 L1574.7 1055.0 L1576.0 1050.9 L1577.1 1051.7 L1578.3 1060.0 L1579.6 1066.5 L1580.9 1071.5 L1582.6 1071.5 L1584.2 1073.1 L1585.9 1077.2 L1587.5 1083.0 L1588.7 1092.0 L1589.8 1104.4 L1590.8 1109.3 L1591.8 1102.7 L1592.8 1086.3 L1594.1 1078.1 L1595.2 1077.2 L1596.4 1081.3 L1597.7 1084.3 L1599.4 1084.6 L1601.0 1083.8 L1602.3 1086.3 L1603.5 1087.6 L1604.6 1078.1 L1605.9 1066.5 L1607.2 1059.1 L1608.9 1057.5 L1610.0 1051.7 L1611.2 1043.5 L1612.5 1041.9 L1613.8 1046.0 L1615.5 1048.1 L1617.4 1049.3 L1619.4 1050.9 L1621.6 1051.7 L1623.2 1048.4 L1624.4 1047.6 L1625.7 1051.7 L1627.3 1056.7 L1629.3 1060.0 L1631.4 1061.6 L1633.6 1061.6 L1635.2 1064.9 L1637.2 1069.8 L1639.2 1073.9 L1640.5 1069.8 L1641.6 1060.0 L1642.9 1054.2 L1644.1 1060.0 L1645.4 1055.0 L1646.7 1053.4 L1648.7 1054.2 L1650.7 1054.7 L1652.8 1055.0 L1654.5 1054.2 L1656.6 1055.0 L1658.6 1054.2 L1660.5 1051.7 L1662.2 1048.4 L1663.5 1044.3 L1665.2 1041.9 L1666.8 1041.0 L1668.4 1042.7 L1670.1 1042.7 L1671.4 1043.2 L1672.6 1051.7 L1673.7 1062.4 L1675.3 1060.0 L1677.0 1055.0 L1678.6 1048.4 L1680.0 1038.6 L1681.3 1028.7 L1682.4 1023.8 L1683.6 1025.4 L1684.6 1030.3 L1685.7 1028.7 L1686.9 1020.5 L1688.2 1018.8 L1689.0 1008.1 L1690.2 1003.2 L1691.5 1005.7 L1692.8 1015.5 L1693.6 1022.1 L1694.8 1015.5 L1696.1 1014.7 L1697.2 1018.0 L1698.4 1015.5 L1699.7 1007.3 L1701.0 1004.8 L1702.2 1005.7 L1703.3 1011.4 L1704.6 1022.1 L1706.3 1030.3 L1707.9 1035.3 L1709.6 1037.7 L1711.2 1043.5 L1712.5 1051.7 L1713.7 1063.2 L1715.0 1073.1 L1716.5 1078.1 L1717.8 1073.1 L1719.4 1068.2 L1721.1 1069.5 L1721.9 1055.0 L1723.1 1041.9 L1724.4 1033.6 L1726.0 1027.9 L1727.7 1024.6 L1729.3 1022.9 L1731.0 1024.6 L1732.6 1025.4 L1733.9 1018.8 L1734.7 1002.4 L1735.9 993.3 L1737.2 991.7 L1738.4 993.3 L1739.5 999.1 L1740.8 995.8 L1742.0 982.6 L1743.3 974.4 L1744.9 968.7 L1746.6 966.2 L1748.2 965.9 L1749.5 962.9 L1750.7 954.7 L1752.0 949.7 L1753.2 948.9 L1754.3 951.4 L1755.3 959.6 L1756.4 974.4 L1757.6 987.6 L1758.9 994.2 L1760.1 985.9 L1761.1 971.1 L1762.2 959.6 L1763.4 951.4 L1764.3 948.9 L1765.5 951.4 L1766.8 948.1 L1768.5 945.6 L1770.1 946.5 L1771.7 948.9 L1772.9 953.0 L1774.1 956.3 L1775.7 958.0 L1776.7 971.1 L1777.8 996.6 L1779.0 984.3 L1780.0 962.9 L1781.1 951.4 L1782.3 948.9 L1783.6 950.6 L1784.9 953.0 L1786.1 956.3 L1787.7 953.0 L1789.3 953.9 L1791.0 954.7 L1793.1 955.5 L1794.8 952.2 L1795.9 951.4 L1797.2 954.7 L1798.4 956.3 L1800.0 957.1 L1801.4 962.1 L1802.5 967.8 L1804.2 972.8 L1805.8 976.1 L1807.0 979.4 L1808.3 974.4 L1809.6 968.7 L1811.2 961.3 L1812.4 965.4 L1813.5 969.5 L1814.8 968.7 L1816.5 967.8 L1817.8 962.9 L1819.0 956.3 L1820.1 948.9 L1821.1 946.5 L1822.2 942.3 L1823.4 938.2 L1824.7 937.4 L1826.4 939.0 L1828.0 942.3 L1829.7 944.8 L1831.0 949.7 L1832.1 953.9 L1832.9 946.5 L1834.6 944.0 L1835.9 940.7 L1837.1 934.9 L1838.2 930.0 L1839.5 920.1 L1841.2 915.2 L1842.8 920.1 L1844.5 930.0 L1845.6 938.2 L1846.6 954.7 L1847.7 972.4 L1848.7 972.8 L1849.7 958.0 L1851.0 954.3 L1852.7 954.7 L1854.3 958.0 L1856.0 961.3 L1856.8 976.1 L1857.6 995.8 L1858.4 1009.0 L1859.6 1014.7 L1860.9 1005.7 L1862.2 992.5 L1863.4 990.0 L1864.5 992.5 L1865.8 997.4 L1867.0 1002.4 L1868.0 992.5 L1869.1 984.3 L1870.3 969.5 L1871.3 958.0 L1872.4 955.5 L1873.7 958.0 L1874.9 961.3 L1876.0 967.8 L1877.0 976.1 L1878.2 972.8 L1879.3 974.4 L1880.6 978.5 L1882.3 982.6 L1883.9 985.9 L1885.6 989.2 L1886.9 991.7 L1888.0 981.8 L1888.9 981.0 L1889.7 981.7 L1890.2 986.9 L1890.7 992.1 L1891.5 996.7 L1892.5 998.8 L1893.3 996.2 L1894.1 989.5 L1894.8 984.3 L1895.6 979.1 L1896.4 974.0 L1897.2 968.8 L1897.8 963.6 L1898.3 955.9 L1898.9 949.1 L1900.0 947.1 L1901.0 945.5 L1902.0 946.0 L1902.6 949.7 L1903.4 955.3 L1904.4 955.6 L1905.4 955.9 L1906.7 957.4 L1908.3 958.7 L1909.1 957.4 L1909.6 954.8 L1910.6 953.9 L1911.9 954.8 L1913.2 957.4 L1914.5 961.0 L1915.5 965.2 L1916.3 969.3 L1916.8 972.9 L1917.9 974.5 L1918.6 979.1 L1919.4 983.3 L1919.9 978.6 L1920.7 978.1 L1921.2 979.7 L1921.7 983.3 L1922.5 986.9 L1923.8 989.5 L1925.4 991.6 L1926.9 993.6 L1928.2 995.7 L1928.6 1002.6 L1929.6 1008.2 L1930.6 1013.9 L1931.4 1018.2 L1932.8 1017.9 L1934.3 1019.6 L1935.7 1022.4 L1937.1 1025.3 L1938.1 1026.7 L1939.2 1023.9 L1940.5 1022.4 L1941.6 1025.3 L1942.8 1029.5 L1943.8 1033.8 L1944.8 1039.5 L1945.6 1045.1 L1946.6 1052.2 L1947.6 1050.8 L1948.7 1048.7 L1949.9 1050.8 L1950.9 1056.5 L1952.3 1059.3 L1953.7 1061.5 L1955.5 1063.6 L1957.2 1065.7 L1958.7 1067.1 L1960.1 1070.7 L1961.5 1074.2 L1963.2 1077.8 L1965.1 1082.0 L1966.9 1084.9 L1968.6 1087.0 L1970.7 1089.8 L1972.6 1092.7 L1974.3 1094.8 L1975.7 1098.4 L1977.1 1101.9 L1978.8 1104.0 L1980.7 1106.2 L1982.5 1107.9 L1983.9 1111.8 L1985.3 1117.5 L1986.3 1120.4 L1987.5 1117.5 L1988.7 1117.8 L1989.9 1120.4 L1991.3 1121.1 L1992.7 1121.8 L1993.9 1120.4 L1994.9 1117.5 L1995.8 1111.8 L1997.0 1104.7 L1998.1 1096.2 L1999.1 1090.6 L2000.5 1088.4 L2001.5 1082.0 L2002.7 1073.5 L2003.8 1065.0 L2005.2 1059.3 L2006.2 1052.2 L2007.2 1048.0 L2008.3 1045.1 L2009.3 1037.3 L2010.2 1036.6 L2010.9 1042.3 L2011.9 1052.2 L2012.9 1056.5 L2014.0 1053.7 L2015.4 1052.2 L2016.8 1052.5 L2018.3 1053.7 L2019.7 1059.3 L2020.8 1065.0 L2021.8 1070.0 L2022.5 1072.1" stroke="#1b9e77" stroke-width="2.4"/>
</g>
<rect x="142.1" y="708.3" width="1881.1000000000001" height="543.4" fill="none" stroke="#000" stroke-width="2.3"/>
<line x1="132.9" x2="142.1" y1="708.3" y2="708.3" stroke="#000" stroke-width="2.2"/>
<text transform="translate(60.88,719.60) scale(1.1134,1.0677)" font-size="29.1">34.7</text>
<line x1="132.9" x2="142.1" y1="817.0" y2="817.0" stroke="#000" stroke-width="2.2"/>
<text transform="translate(60.24,828.30) scale(1.1250,1.0677)" font-size="29.1">34.6</text>
<line x1="132.9" x2="142.1" y1="925.7" y2="925.7" stroke="#000" stroke-width="2.2"/>
<text transform="translate(60.95,937.00) scale(1.1071,1.0677)" font-size="29.1">34.5</text>
<line x1="132.9" x2="142.1" y1="1034.3" y2="1034.3" stroke="#000" stroke-width="2.2"/>
<text transform="translate(60.06,1045.60) scale(1.1181,1.0677)" font-size="29.1">34.4</text>
<line x1="132.9" x2="142.1" y1="1143.0" y2="1143.0" stroke="#000" stroke-width="2.2"/>
<text transform="translate(60.76,1154.30) scale(1.1157,1.0677)" font-size="29.1">34.3</text>
<line x1="132.9" x2="142.1" y1="1251.7" y2="1251.7" stroke="#000" stroke-width="2.2"/>
<text transform="translate(61.33,1263.00) scale(1.1053,1.0677)" font-size="29.1">34.2</text>
<line x1="290.8" x2="290.8" y1="1251.7" y2="1260.9" stroke="#000" stroke-width="2.2"/>
<text transform="translate(272.98,1292.40) scale(1.0882,1.0677)" font-size="29.1">25</text>
<line x1="538.3" x2="538.3" y1="1251.7" y2="1260.9" stroke="#000" stroke-width="2.2"/>
<text transform="translate(520.48,1292.40) scale(1.0958,1.0677)" font-size="29.1">50</text>
<line x1="785.8" x2="785.8" y1="1251.7" y2="1260.9" stroke="#000" stroke-width="2.2"/>
<text transform="translate(768.10,1292.40) scale(1.0798,1.0677)" font-size="29.1">75</text>
<line x1="1033.3" x2="1033.3" y1="1251.7" y2="1260.9" stroke="#000" stroke-width="2.2"/>
<text transform="translate(1005.54,1292.40) scale(1.1146,1.0677)" font-size="29.1">100</text>
<line x1="1280.8" x2="1280.8" y1="1251.7" y2="1260.9" stroke="#000" stroke-width="2.2"/>
<text transform="translate(1253.36,1292.40) scale(1.1069,1.0677)" font-size="29.1">125</text>
<line x1="1528.2" x2="1528.2" y1="1251.7" y2="1260.9" stroke="#000" stroke-width="2.2"/>
<text transform="translate(1500.52,1292.40) scale(1.1146,1.0677)" font-size="29.1">150</text>
<line x1="1775.7" x2="1775.7" y1="1251.7" y2="1260.9" stroke="#000" stroke-width="2.2"/>
<text transform="translate(1748.34,1292.40) scale(1.1069,1.0677)" font-size="29.1">175</text>
<line x1="2023.2" x2="2023.2" y1="1251.7" y2="1260.9" stroke="#000" stroke-width="2.2"/>
<text transform="translate(1995.80,1292.40) scale(1.1196,1.0677)" font-size="29.1">200</text>
<text transform="translate(1047.44,1334.60) scale(1.0166,1.0667)" font-size="34.9">Year</text>
<text transform="translate(155.82,768.30) scale(1.0116,1.0000)" font-size="55" font-weight="bold" fill="#1f1f1f">(b)</text>
<text transform="translate(42.6,0) rotate(-90) translate(-343.37,0.00) scale(1.0050,1.0600)" font-size="34.9" font-style="italic">T</text>
<text transform="translate(42.6,0) rotate(-90) translate(-313.50,-2.30) scale(0.7556,0.9570)" font-size="34.9">(</text>
<text transform="translate(42.6,0) rotate(-90) translate(-299.51,-5.60) scale(1.0074,1.0800)" font-size="24.4">°</text>
<text transform="translate(42.6,0) rotate(-90) translate(-286.58,0.00) scale(0.9376,1.0600)" font-size="34.9" font-style="italic">C</text>
<text transform="translate(42.6,0) rotate(-90) translate(-259.90,-2.30) scale(0.7892,0.9570)" font-size="34.9">)</text>
<text transform="translate(42.6,0) rotate(-90) translate(-1041.50,0.00) scale(0.9011,1.0600)" font-size="34.9" font-style="italic">S</text>
<text transform="translate(42.6,0) rotate(-90) translate(-1010.85,-2.30) scale(0.8222,0.9570)" font-size="34.9">(</text>
<text transform="translate(42.6,0) rotate(-90) translate(-998.21,0.00) scale(0.8136,1.0600)" font-size="34.9" font-style="italic">P</text>
<text transform="translate(42.6,0) rotate(-90) translate(-978.87,0.00) scale(0.8736,1.0600)" font-size="34.9" font-style="italic">S</text>
<text transform="translate(42.6,0) rotate(-90) translate(-957.03,0.00) scale(0.9319,1.0600)" font-size="34.9" font-style="italic">U</text>
<text transform="translate(42.6,0) rotate(-90) translate(-929.88,-2.30) scale(0.7351,0.9570)" font-size="34.9">)</text>
</svg></body></html>
